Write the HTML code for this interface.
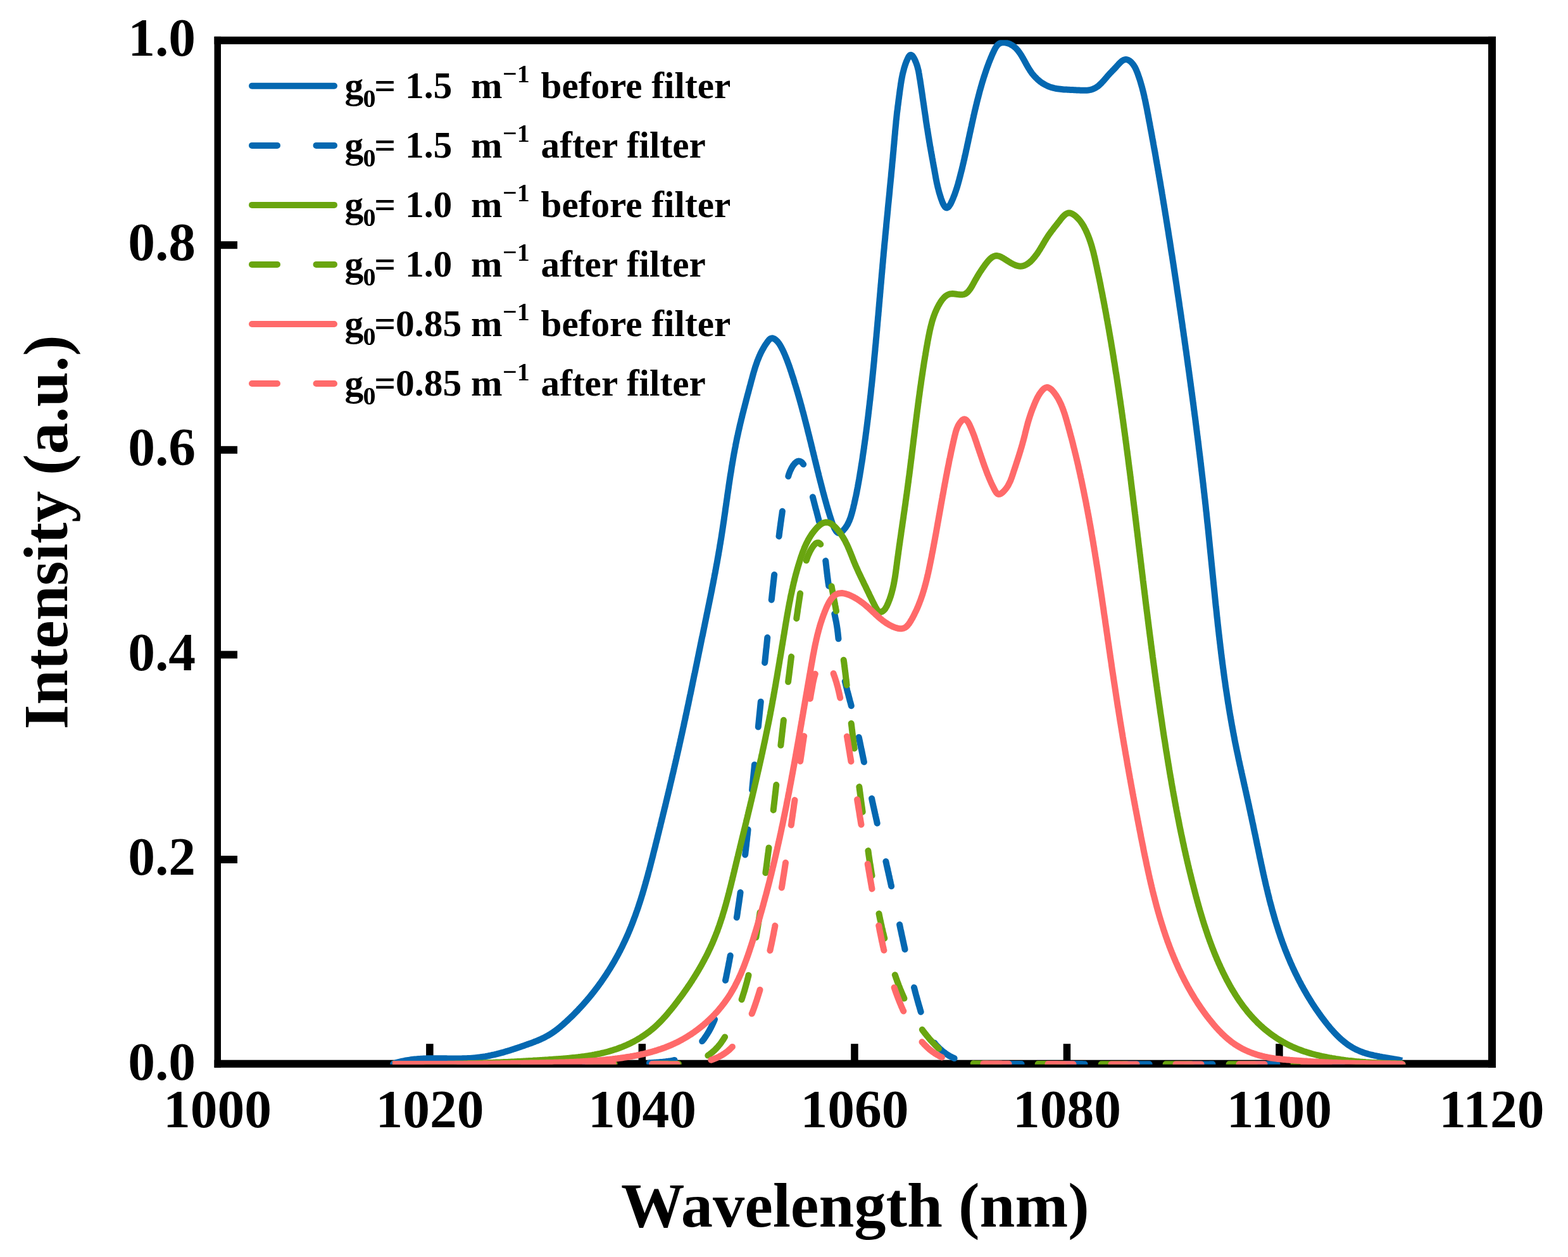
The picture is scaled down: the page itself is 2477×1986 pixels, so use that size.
<!DOCTYPE html><html><head><meta charset="utf-8"><title>Intensity vs Wavelength</title><style>html,body{margin:0;padding:0;background:#fff;}svg{display:block;}text{font-variant-ligatures:none;}</style></head><body>
<svg width="2477" height="1986" viewBox="0 0 2477 1986">
<rect x="0" y="0" width="2477" height="1986" fill="#fff"/>
<g fill="#000">
<rect x="338.5" y="57.8" width="2024.5" height="12.1"/>
<rect x="338.5" y="1674.7" width="2024.5" height="12.1"/>
<rect x="338.5" y="57.8" width="10.5" height="1629"/>
<rect x="2351" y="57.8" width="12" height="1629"/>
<rect x="673.1" y="1649.2" width="11.5" height="27"/>
<rect x="1008.6" y="1649.2" width="11.5" height="27"/>
<rect x="1344.2" y="1649.2" width="11.5" height="27"/>
<rect x="1679.7" y="1649.2" width="11.5" height="27"/>
<rect x="2015.2" y="1649.2" width="11.5" height="27"/>
<rect x="348" y="1352.0" width="27" height="12"/>
<rect x="348" y="1028.4" width="27" height="12"/>
<rect x="348" y="704.8" width="27" height="12"/>
<rect x="348" y="381.2" width="27" height="12"/>
</g>
<g font-family="Liberation Serif, Times New Roman, serif" font-weight="bold" font-size="85.5" fill="#000">
<text x="343.4" y="1781.4" text-anchor="middle">1000</text>
<text x="678.9" y="1781.4" text-anchor="middle">1020</text>
<text x="1014.4" y="1781.4" text-anchor="middle">1040</text>
<text x="1349.9" y="1781.4" text-anchor="middle">1060</text>
<text x="1685.4" y="1781.4" text-anchor="middle">1080</text>
<text x="2020.9" y="1781.4" text-anchor="middle">1100</text>
<text x="2356.4" y="1781.4" text-anchor="middle">1120</text>
<text x="309" y="1705.8" text-anchor="end">0.0</text>
<text x="309" y="1382.2" text-anchor="end">0.2</text>
<text x="309" y="1058.6" text-anchor="end">0.4</text>
<text x="309" y="735.0" text-anchor="end">0.6</text>
<text x="309" y="411.4" text-anchor="end">0.8</text>
<text x="309" y="87.8" text-anchor="end">1.0</text>
</g>
<text font-family="Liberation Serif, Times New Roman, serif" font-weight="bold" font-size="100.5" x="980.9" y="1937.5">Wavelength (nm)</text>
<text font-family="Liberation Serif, Times New Roman, serif" font-weight="bold" font-size="99.7" transform="translate(105.8 1152.3) rotate(-90)" x="0" y="0">Intensity (a.u.)</text>
<defs><clipPath id="pc"><rect x="343.7" y="63.2" width="2013.3" height="1618.6"/></clipPath></defs>
<g clip-path="url(#pc)" fill="none" stroke-width="10" stroke-linejoin="round">
<path d="M620.0 1681.1L621.9 1680.4L623.8 1679.8L625.7 1679.2L627.6 1678.7L629.5 1678.2L631.5 1677.7L633.4 1677.2L635.4 1676.7L637.3 1676.3L639.3 1675.9L641.2 1675.5L643.2 1675.2L645.2 1674.9L647.1 1674.6L649.1 1674.3L651.1 1674.0L653.1 1673.8L655.1 1673.6L657.1 1673.4L659.1 1673.2L661.1 1673.0L663.1 1672.9L665.0 1672.8L667.0 1672.7L669.0 1672.6L671.0 1672.5L673.0 1672.4L675.0 1672.3L677.0 1672.3L679.0 1672.3L681.0 1672.2L683.0 1672.2L685.0 1672.2L687.0 1672.2L689.0 1672.2L691.0 1672.2L693.0 1672.2L695.0 1672.2L697.0 1672.2L699.0 1672.3L701.0 1672.3L703.0 1672.3L705.0 1672.3L707.0 1672.4L709.0 1672.4L711.0 1672.4L713.0 1672.4L715.0 1672.4L717.0 1672.5L719.0 1672.5L721.0 1672.5L723.0 1672.5L725.0 1672.4L727.0 1672.4L729.0 1672.4L731.0 1672.3L733.0 1672.3L735.0 1672.2L737.0 1672.2L739.0 1672.1L741.0 1672.0L743.0 1671.9L745.0 1671.7L747.0 1671.6L749.0 1671.4L751.0 1671.2L753.0 1671.0L754.9 1670.8L756.9 1670.6L758.9 1670.3L760.9 1670.0L762.9 1669.7L764.8 1669.4L766.8 1669.1L768.8 1668.7L770.8 1668.4L772.7 1668.0L774.7 1667.6L776.6 1667.2L778.6 1666.7L780.5 1666.3L782.5 1665.8L784.4 1665.4L786.4 1664.9L788.3 1664.4L790.2 1663.9L792.2 1663.3L794.1 1662.8L796.0 1662.3L797.9 1661.7L799.8 1661.1L801.8 1660.6L803.7 1660.0L805.6 1659.4L807.5 1658.8L809.4 1658.2L811.3 1657.6L813.2 1657.0L815.1 1656.3L817.0 1655.7L818.9 1655.1L820.8 1654.4L822.7 1653.8L824.6 1653.1L826.5 1652.5L828.3 1651.8L830.2 1651.1L832.1 1650.5L834.0 1649.8L835.9 1649.1L837.8 1648.5L839.6 1647.8L841.5 1647.1L843.4 1646.4L845.2 1645.6L847.1 1644.9L849.0 1644.2L850.8 1643.4L852.6 1642.6L854.5 1641.8L856.3 1640.9L858.1 1640.1L859.9 1639.2L861.7 1638.3L863.4 1637.3L865.2 1636.4L866.9 1635.4L868.6 1634.4L870.3 1633.3L872.0 1632.2L873.6 1631.1L875.3 1629.9L876.9 1628.8L878.5 1627.6L880.1 1626.4L881.7 1625.1L883.2 1623.9L884.8 1622.6L886.3 1621.3L887.8 1620.0L889.3 1618.7L890.8 1617.4L892.3 1616.0L893.8 1614.7L895.3 1613.3L896.7 1612.0L898.2 1610.6L899.7 1609.2L901.1 1607.9L902.5 1606.5L904.0 1605.1L905.4 1603.7L906.8 1602.3L908.2 1600.8L909.6 1599.4L911.0 1598.0L912.4 1596.6L913.8 1595.1L915.1 1593.6L916.5 1592.2L917.9 1590.7L919.2 1589.2L920.6 1587.8L921.9 1586.3L923.2 1584.8L924.5 1583.3L925.8 1581.8L927.2 1580.2L928.4 1578.7L929.7 1577.2L931.0 1575.7L932.3 1574.1L933.5 1572.6L934.8 1571.0L936.1 1569.4L937.3 1567.9L938.5 1566.3L939.8 1564.7L941.0 1563.1L942.2 1561.5L943.4 1559.9L944.6 1558.3L945.8 1556.7L946.9 1555.1L948.1 1553.5L949.3 1551.9L950.4 1550.2L951.6 1548.6L952.7 1546.9L953.8 1545.3L954.9 1543.6L956.1 1542.0L957.2 1540.3L958.3 1538.6L959.3 1537.0L960.4 1535.3L961.5 1533.6L962.6 1531.9L963.6 1530.2L964.7 1528.5L965.7 1526.8L966.7 1525.1L967.7 1523.4L968.8 1521.6L969.8 1519.9L970.8 1518.2L971.7 1516.4L972.7 1514.7L973.7 1512.9L974.7 1511.2L975.6 1509.4L976.6 1507.7L977.5 1505.9L978.4 1504.1L979.4 1502.4L980.3 1500.6L981.2 1498.8L982.1 1497.0L983.0 1495.2L983.8 1493.4L984.7 1491.6L985.6 1489.8L986.4 1488.0L987.3 1486.2L988.1 1484.4L988.9 1482.6L989.8 1480.7L990.6 1478.9L991.4 1477.1L992.2 1475.3L993.0 1473.4L993.7 1471.6L994.5 1469.7L995.3 1467.9L996.0 1466.0L996.8 1464.2L997.5 1462.3L998.3 1460.5L999.0 1458.6L999.7 1456.7L1000.4 1454.9L1001.1 1453.0L1001.8 1451.1L1002.5 1449.3L1003.2 1447.4L1003.9 1445.5L1004.6 1443.6L1005.2 1441.7L1005.9 1439.8L1006.6 1438.0L1007.2 1436.1L1007.9 1434.2L1008.5 1432.3L1009.1 1430.4L1009.7 1428.5L1010.4 1426.6L1011.0 1424.7L1011.6 1422.8L1012.2 1420.9L1012.8 1419.0L1013.4 1417.1L1014.0 1415.1L1014.6 1413.2L1015.2 1411.3L1015.7 1409.4L1016.3 1407.5L1016.9 1405.6L1017.4 1403.6L1018.0 1401.7L1018.5 1399.8L1019.1 1397.9L1019.6 1396.0L1020.2 1394.0L1020.7 1392.1L1021.3 1390.2L1021.8 1388.3L1022.3 1386.3L1022.9 1384.4L1023.4 1382.5L1023.9 1380.5L1024.4 1378.6L1024.9 1376.7L1025.5 1374.8L1026.0 1372.8L1026.5 1370.9L1027.0 1369.0L1027.5 1367.0L1028.0 1365.1L1028.5 1363.1L1029.0 1361.2L1029.5 1359.3L1030.0 1357.3L1030.5 1355.4L1031.0 1353.5L1031.5 1351.5L1031.9 1349.6L1032.4 1347.6L1032.9 1345.7L1033.4 1343.8L1033.9 1341.8L1034.4 1339.9L1034.9 1338.0L1035.4 1336.0L1035.8 1334.1L1036.3 1332.1L1036.8 1330.2L1037.3 1328.3L1037.8 1326.3L1038.3 1324.4L1038.7 1322.4L1039.2 1320.5L1039.7 1318.5L1040.2 1316.6L1040.7 1314.7L1041.1 1312.7L1041.6 1310.8L1042.1 1308.8L1042.6 1306.9L1043.1 1305.0L1043.5 1303.0L1044.0 1301.1L1044.5 1299.1L1045.0 1297.2L1045.4 1295.3L1045.9 1293.3L1046.4 1291.4L1046.9 1289.4L1047.3 1287.5L1047.8 1285.5L1048.3 1283.6L1048.8 1281.7L1049.2 1279.7L1049.7 1277.8L1050.2 1275.8L1050.7 1273.9L1051.1 1271.9L1051.6 1270.0L1052.1 1268.1L1052.5 1266.1L1053.0 1264.2L1053.5 1262.2L1053.9 1260.3L1054.4 1258.3L1054.9 1256.4L1055.3 1254.5L1055.8 1252.5L1056.3 1250.6L1056.7 1248.6L1057.2 1246.7L1057.7 1244.7L1058.1 1242.8L1058.6 1240.8L1059.0 1238.9L1059.5 1236.9L1060.0 1235.0L1060.4 1233.1L1060.9 1231.1L1061.3 1229.2L1061.8 1227.2L1062.2 1225.3L1062.7 1223.3L1063.2 1221.4L1063.6 1219.4L1064.1 1217.5L1064.5 1215.5L1065.0 1213.6L1065.4 1211.6L1065.9 1209.7L1066.3 1207.7L1066.8 1205.8L1067.2 1203.8L1067.7 1201.9L1068.1 1199.9L1068.6 1198.0L1069.0 1196.0L1069.4 1194.1L1069.9 1192.1L1070.3 1190.2L1070.8 1188.2L1071.2 1186.3L1071.7 1184.3L1072.1 1182.4L1072.5 1180.4L1073.0 1178.5L1073.4 1176.5L1073.8 1174.6L1074.3 1172.6L1074.7 1170.7L1075.1 1168.7L1075.6 1166.8L1076.0 1164.8L1076.4 1162.9L1076.9 1160.9L1077.3 1159.0L1077.7 1157.0L1078.2 1155.1L1078.6 1153.1L1079.0 1151.2L1079.4 1149.2L1079.9 1147.3L1080.3 1145.3L1080.7 1143.3L1081.1 1141.4L1081.5 1139.4L1082.0 1137.5L1082.4 1135.5L1082.8 1133.6L1083.2 1131.6L1083.6 1129.7L1084.1 1127.7L1084.5 1125.8L1084.9 1123.8L1085.3 1121.8L1085.7 1119.9L1086.1 1117.9L1086.5 1116.0L1087.0 1114.0L1087.4 1112.1L1087.8 1110.1L1088.2 1108.1L1088.6 1106.2L1089.0 1104.2L1089.4 1102.3L1089.8 1100.3L1090.2 1098.4L1090.7 1096.4L1091.1 1094.5L1091.5 1092.5L1091.9 1090.5L1092.3 1088.6L1092.7 1086.6L1093.1 1084.7L1093.5 1082.7L1093.9 1080.7L1094.3 1078.8L1094.7 1076.8L1095.1 1074.9L1095.5 1072.9L1095.9 1071.0L1096.3 1069.0L1096.7 1067.0L1097.1 1065.1L1097.6 1063.1L1098.0 1061.2L1098.4 1059.2L1098.8 1057.3L1099.2 1055.3L1099.6 1053.3L1100.0 1051.4L1100.4 1049.4L1100.8 1047.5L1101.2 1045.5L1101.6 1043.5L1102.0 1041.6L1102.4 1039.6L1102.8 1037.7L1103.2 1035.7L1103.6 1033.8L1104.0 1031.8L1104.4 1029.8L1104.8 1027.9L1105.2 1025.9L1105.6 1024.0L1106.0 1022.0L1106.4 1020.0L1106.8 1018.1L1107.2 1016.1L1107.6 1014.2L1108.0 1012.2L1108.4 1010.3L1108.8 1008.3L1109.2 1006.3L1109.7 1004.4L1110.1 1002.4L1110.5 1000.5L1110.9 998.5L1111.3 996.5L1111.7 994.6L1112.1 992.6L1112.5 990.7L1112.9 988.7L1113.3 986.8L1113.7 984.8L1114.1 982.8L1114.5 980.9L1114.9 978.9L1115.3 977.0L1115.7 975.0L1116.1 973.1L1116.5 971.1L1116.9 969.1L1117.3 967.2L1117.7 965.2L1118.1 963.3L1118.5 961.3L1118.9 959.3L1119.3 957.4L1119.7 955.4L1120.1 953.5L1120.5 951.5L1120.9 949.5L1121.3 947.6L1121.7 945.6L1122.1 943.7L1122.5 941.7L1122.9 939.7L1123.3 937.8L1123.7 935.8L1124.1 933.9L1124.5 931.9L1124.8 929.9L1125.2 928.0L1125.6 926.0L1126.0 924.1L1126.4 922.1L1126.8 920.1L1127.1 918.2L1127.5 916.2L1127.9 914.2L1128.3 912.3L1128.6 910.3L1129.0 908.3L1129.4 906.4L1129.8 904.4L1130.1 902.5L1130.5 900.5L1130.9 898.5L1131.2 896.6L1131.6 894.6L1131.9 892.6L1132.3 890.7L1132.7 888.7L1133.0 886.7L1133.4 884.8L1133.7 882.8L1134.1 880.8L1134.4 878.8L1134.8 876.9L1135.1 874.9L1135.4 872.9L1135.8 871.0L1136.1 869.0L1136.5 867.0L1136.8 865.1L1137.1 863.1L1137.4 861.1L1137.8 859.1L1138.1 857.2L1138.4 855.2L1138.7 853.2L1139.1 851.2L1139.4 849.3L1139.7 847.3L1140.0 845.3L1140.3 843.3L1140.6 841.4L1140.9 839.4L1141.2 837.4L1141.5 835.4L1141.8 833.5L1142.1 831.5L1142.4 829.5L1142.7 827.5L1143.0 825.5L1143.3 823.6L1143.6 821.6L1143.9 819.6L1144.1 817.6L1144.4 815.7L1144.7 813.7L1145.0 811.7L1145.3 809.7L1145.6 807.7L1145.8 805.8L1146.1 803.8L1146.4 801.8L1146.7 799.8L1147.0 797.8L1147.3 795.9L1147.5 793.9L1147.8 791.9L1148.1 789.9L1148.4 787.9L1148.7 786.0L1148.9 784.0L1149.2 782.0L1149.5 780.0L1149.8 778.1L1150.1 776.1L1150.4 774.1L1150.7 772.1L1151.0 770.1L1151.2 768.2L1151.5 766.2L1151.8 764.2L1152.1 762.2L1152.4 760.2L1152.7 758.3L1153.0 756.3L1153.3 754.3L1153.6 752.3L1153.9 750.4L1154.2 748.4L1154.6 746.4L1154.9 744.4L1155.2 742.5L1155.5 740.5L1155.8 738.5L1156.1 736.5L1156.5 734.6L1156.8 732.6L1157.1 730.6L1157.5 728.7L1157.8 726.7L1158.1 724.7L1158.5 722.7L1158.8 720.8L1159.2 718.8L1159.5 716.8L1159.9 714.9L1160.3 712.9L1160.6 710.9L1161.0 709.0L1161.4 707.0L1161.8 705.1L1162.1 703.1L1162.5 701.1L1162.9 699.2L1163.3 697.2L1163.7 695.3L1164.1 693.3L1164.5 691.3L1164.9 689.4L1165.4 687.4L1165.8 685.5L1166.2 683.5L1166.6 681.6L1167.1 679.6L1167.5 677.7L1168.0 675.7L1168.4 673.8L1168.9 671.8L1169.3 669.9L1169.8 667.9L1170.3 666.0L1170.7 664.0L1171.2 662.1L1171.7 660.2L1172.2 658.2L1172.6 656.3L1173.1 654.3L1173.6 652.4L1174.1 650.5L1174.6 648.5L1175.1 646.6L1175.6 644.6L1176.1 642.7L1176.6 640.8L1177.1 638.8L1177.6 636.9L1178.1 635.0L1178.6 633.0L1179.1 631.1L1179.6 629.2L1180.1 627.2L1180.6 625.3L1181.1 623.4L1181.7 621.4L1182.2 619.5L1182.7 617.6L1183.2 615.6L1183.7 613.7L1184.2 611.8L1184.8 609.8L1185.3 607.9L1185.8 606.0L1186.3 604.1L1186.8 602.1L1187.3 600.2L1187.9 598.3L1188.4 596.3L1188.9 594.4L1189.4 592.5L1190.0 590.5L1190.5 588.6L1191.1 586.7L1191.7 584.8L1192.2 582.9L1192.8 581.0L1193.4 579.1L1194.1 577.2L1194.7 575.3L1195.4 573.4L1196.0 571.5L1196.7 569.6L1197.5 567.8L1198.2 565.9L1199.0 564.1L1199.7 562.2L1200.6 560.4L1201.4 558.6L1202.3 556.8L1203.2 555.0L1204.1 553.2L1205.1 551.5L1206.1 549.7L1207.1 548.0L1208.1 546.3L1209.2 544.6L1210.3 543.0L1211.5 541.3L1212.6 539.7L1213.9 538.1L1215.2 536.6L1216.7 535.3L1218.5 534.4L1220.4 534.3L1222.3 534.9L1224.0 535.9L1225.6 537.1L1227.1 538.5L1228.5 539.9L1229.7 541.5L1230.9 543.1L1232.0 544.8L1233.0 546.5L1234.0 548.2L1234.9 550.0L1235.8 551.8L1236.7 553.6L1237.6 555.4L1238.4 557.2L1239.2 559.0L1240.0 560.9L1240.8 562.7L1241.5 564.6L1242.3 566.4L1243.0 568.3L1243.7 570.1L1244.4 572.0L1245.1 573.9L1245.8 575.8L1246.5 577.7L1247.1 579.5L1247.8 581.4L1248.4 583.3L1249.0 585.2L1249.7 587.1L1250.3 589.0L1250.9 590.9L1251.5 592.8L1252.1 594.7L1252.8 596.6L1253.4 598.5L1254.0 600.4L1254.6 602.3L1255.1 604.3L1255.7 606.2L1256.3 608.1L1256.9 610.0L1257.5 611.9L1258.1 613.8L1258.6 615.7L1259.2 617.7L1259.8 619.6L1260.3 621.5L1260.9 623.4L1261.4 625.3L1262.0 627.3L1262.5 629.2L1263.1 631.1L1263.6 633.0L1264.2 635.0L1264.7 636.9L1265.2 638.8L1265.8 640.7L1266.3 642.7L1266.8 644.6L1267.3 646.5L1267.8 648.5L1268.4 650.4L1268.9 652.3L1269.4 654.2L1269.9 656.2L1270.4 658.1L1270.9 660.1L1271.4 662.0L1271.9 663.9L1272.4 665.9L1272.9 667.8L1273.4 669.7L1273.9 671.7L1274.4 673.6L1274.9 675.5L1275.4 677.5L1275.9 679.4L1276.3 681.4L1276.8 683.3L1277.3 685.2L1277.8 687.2L1278.3 689.1L1278.8 691.1L1279.2 693.0L1279.7 694.9L1280.2 696.9L1280.7 698.8L1281.2 700.8L1281.6 702.7L1282.1 704.7L1282.6 706.6L1283.1 708.5L1283.5 710.5L1284.0 712.4L1284.5 714.4L1284.9 716.3L1285.4 718.2L1285.9 720.2L1286.4 722.1L1286.8 724.1L1287.3 726.0L1287.8 728.0L1288.3 729.9L1288.7 731.8L1289.2 733.8L1289.7 735.7L1290.2 737.7L1290.7 739.6L1291.1 741.6L1291.6 743.5L1292.1 745.4L1292.6 747.4L1293.1 749.3L1293.5 751.3L1294.0 753.2L1294.5 755.1L1295.0 757.1L1295.5 759.0L1296.0 760.9L1296.5 762.9L1297.0 764.8L1297.5 766.8L1298.0 768.7L1298.5 770.6L1299.0 772.6L1299.5 774.5L1300.0 776.4L1300.5 778.4L1301.0 780.3L1301.6 782.2L1302.1 784.2L1302.6 786.1L1303.1 788.0L1303.7 789.9L1304.2 791.9L1304.7 793.8L1305.3 795.7L1305.8 797.6L1306.4 799.6L1306.9 801.5L1307.5 803.4L1308.1 805.3L1308.6 807.2L1309.2 809.1L1309.8 811.1L1310.4 813.0L1311.0 814.9L1311.6 816.8L1312.2 818.7L1312.8 820.6L1313.4 822.5L1314.0 824.4L1314.7 826.3L1315.4 828.2L1316.1 830.0L1316.9 831.9L1317.7 833.7L1318.6 835.5L1319.7 837.2L1320.7 838.9L1322.0 840.4L1323.5 841.7L1325.4 842.3L1327.3 841.8L1329.0 840.8L1330.6 839.5L1332.0 838.1L1333.3 836.6L1334.6 835.1L1335.8 833.5L1336.9 831.8L1338.0 830.1L1339.0 828.4L1339.9 826.6L1340.7 824.8L1341.6 823.0L1342.3 821.1L1343.0 819.3L1343.7 817.4L1344.3 815.5L1344.9 813.6L1345.4 811.7L1346.0 809.7L1346.5 807.8L1347.0 805.9L1347.5 803.9L1348.0 802.0L1348.4 800.0L1348.9 798.1L1349.4 796.1L1349.8 794.2L1350.2 792.3L1350.7 790.3L1351.1 788.3L1351.5 786.4L1352.0 784.4L1352.4 782.5L1352.8 780.5L1353.2 778.6L1353.6 776.6L1353.9 774.6L1354.3 772.7L1354.7 770.7L1355.1 768.8L1355.4 766.8L1355.8 764.8L1356.1 762.9L1356.5 760.9L1356.8 758.9L1357.2 756.9L1357.5 755.0L1357.9 753.0L1358.2 751.0L1358.5 749.1L1358.8 747.1L1359.2 745.1L1359.5 743.1L1359.8 741.2L1360.1 739.2L1360.4 737.2L1360.7 735.2L1361.0 733.3L1361.4 731.3L1361.7 729.3L1362.0 727.3L1362.3 725.4L1362.6 723.4L1362.8 721.4L1363.1 719.4L1363.4 717.4L1363.7 715.5L1364.0 713.5L1364.3 711.5L1364.6 709.5L1364.9 707.6L1365.1 705.6L1365.4 703.6L1365.7 701.6L1366.0 699.6L1366.2 697.7L1366.5 695.7L1366.8 693.7L1367.1 691.7L1367.3 689.7L1367.6 687.7L1367.8 685.8L1368.1 683.8L1368.4 681.8L1368.6 679.8L1368.9 677.8L1369.1 675.9L1369.4 673.9L1369.6 671.9L1369.9 669.9L1370.1 667.9L1370.4 665.9L1370.6 663.9L1370.9 662.0L1371.1 660.0L1371.4 658.0L1371.6 656.0L1371.8 654.0L1372.1 652.0L1372.3 650.1L1372.5 648.1L1372.8 646.1L1373.0 644.1L1373.2 642.1L1373.5 640.1L1373.7 638.1L1373.9 636.2L1374.1 634.2L1374.4 632.2L1374.6 630.2L1374.8 628.2L1375.0 626.2L1375.3 624.2L1375.5 622.2L1375.7 620.3L1375.9 618.3L1376.1 616.3L1376.3 614.3L1376.5 612.3L1376.8 610.3L1377.0 608.3L1377.2 606.3L1377.4 604.4L1377.6 602.4L1377.8 600.4L1378.0 598.4L1378.2 596.4L1378.4 594.4L1378.6 592.4L1378.8 590.4L1379.0 588.4L1379.2 586.4L1379.4 584.5L1379.6 582.5L1379.8 580.5L1380.0 578.5L1380.2 576.5L1380.4 574.5L1380.6 572.5L1380.8 570.5L1381.0 568.5L1381.1 566.6L1381.3 564.6L1381.5 562.6L1381.7 560.6L1381.9 558.6L1382.1 556.6L1382.3 554.6L1382.5 552.6L1382.6 550.6L1382.8 548.6L1383.0 546.6L1383.2 544.7L1383.4 542.7L1383.6 540.7L1383.7 538.7L1383.9 536.7L1384.1 534.7L1384.3 532.7L1384.5 530.7L1384.6 528.7L1384.8 526.7L1385.0 524.7L1385.2 522.8L1385.4 520.8L1385.5 518.8L1385.7 516.8L1385.9 514.8L1386.1 512.8L1386.2 510.8L1386.4 508.8L1386.6 506.8L1386.8 504.8L1386.9 502.8L1387.1 500.8L1387.3 498.9L1387.5 496.9L1387.6 494.9L1387.8 492.9L1388.0 490.9L1388.2 488.9L1388.3 486.9L1388.5 484.9L1388.7 482.9L1388.8 480.9L1389.0 478.9L1389.2 476.9L1389.4 474.9L1389.5 473.0L1389.7 471.0L1389.9 469.0L1390.1 467.0L1390.2 465.0L1390.4 463.0L1390.6 461.0L1390.7 459.0L1390.9 457.0L1391.1 455.0L1391.3 453.0L1391.4 451.0L1391.6 449.1L1391.8 447.1L1392.0 445.1L1392.1 443.1L1392.3 441.1L1392.5 439.1L1392.7 437.1L1392.8 435.1L1393.0 433.1L1393.2 431.1L1393.4 429.1L1393.5 427.1L1393.7 425.2L1393.9 423.2L1394.1 421.2L1394.2 419.2L1394.4 417.2L1394.6 415.2L1394.8 413.2L1394.9 411.2L1395.1 409.2L1395.3 407.2L1395.5 405.2L1395.7 403.2L1395.8 401.3L1396.0 399.3L1396.2 397.3L1396.4 395.3L1396.6 393.3L1396.8 391.3L1396.9 389.3L1397.1 387.3L1397.3 385.3L1397.5 383.3L1397.7 381.3L1397.9 379.4L1398.1 377.4L1398.3 375.4L1398.4 373.4L1398.6 371.4L1398.8 369.4L1399.0 367.4L1399.2 365.4L1399.4 363.4L1399.6 361.4L1399.8 359.5L1400.0 357.5L1400.1 355.5L1400.3 353.5L1400.5 351.5L1400.7 349.5L1400.9 347.5L1401.1 345.5L1401.3 343.5L1401.5 341.5L1401.7 339.6L1401.9 337.6L1402.1 335.6L1402.3 333.6L1402.5 331.6L1402.6 329.6L1402.8 327.6L1403.0 325.6L1403.2 323.6L1403.4 321.6L1403.6 319.7L1403.8 317.7L1404.0 315.7L1404.2 313.7L1404.4 311.7L1404.6 309.7L1404.8 307.7L1405.0 305.7L1405.2 303.7L1405.4 301.7L1405.5 299.8L1405.7 297.8L1405.9 295.8L1406.1 293.8L1406.3 291.8L1406.5 289.8L1406.7 287.8L1406.9 285.8L1407.1 283.8L1407.3 281.8L1407.5 279.9L1407.7 277.9L1407.8 275.9L1408.0 273.9L1408.2 271.9L1408.4 269.9L1408.6 267.9L1408.8 265.9L1409.0 263.9L1409.2 261.9L1409.3 259.9L1409.5 258.0L1409.7 256.0L1409.9 254.0L1410.1 252.0L1410.3 250.0L1410.5 248.0L1410.6 246.0L1410.8 244.0L1411.0 242.0L1411.2 240.0L1411.4 238.0L1411.6 236.1L1411.7 234.1L1411.9 232.1L1412.1 230.1L1412.3 228.1L1412.5 226.1L1412.6 224.1L1412.8 222.1L1413.0 220.1L1413.2 218.1L1413.3 216.1L1413.5 214.2L1413.7 212.2L1413.9 210.2L1414.0 208.2L1414.2 206.2L1414.4 204.2L1414.6 202.2L1414.8 200.2L1415.0 198.2L1415.2 196.2L1415.4 194.2L1415.5 192.3L1415.7 190.3L1416.0 188.3L1416.2 186.3L1416.4 184.3L1416.6 182.3L1416.8 180.3L1417.0 178.3L1417.3 176.4L1417.5 174.4L1417.8 172.4L1418.0 170.4L1418.2 168.4L1418.5 166.4L1418.8 164.4L1419.0 162.5L1419.3 160.5L1419.5 158.5L1419.8 156.5L1420.1 154.5L1420.3 152.6L1420.6 150.6L1420.9 148.6L1421.1 146.6L1421.4 144.6L1421.6 142.6L1421.9 140.7L1422.2 138.7L1422.5 136.7L1422.8 134.7L1423.0 132.7L1423.4 130.8L1423.7 128.8L1424.0 126.8L1424.4 124.9L1424.7 122.9L1425.1 120.9L1425.5 119.0L1425.9 117.0L1426.4 115.1L1426.9 113.1L1427.4 111.2L1427.9 109.3L1428.4 107.3L1429.0 105.4L1429.6 103.5L1430.3 101.6L1430.9 99.7L1431.6 97.9L1432.4 96.0L1433.2 94.2L1434.0 92.4L1434.9 90.6L1435.9 88.9L1437.2 87.3L1439.0 86.7L1440.8 87.6L1442.1 89.1L1443.2 90.8L1444.2 92.5L1445.1 94.3L1445.9 96.1L1446.7 98.0L1447.4 99.8L1448.1 101.7L1448.7 103.6L1449.3 105.5L1449.8 107.5L1450.3 109.4L1450.8 111.3L1451.2 113.3L1451.5 115.3L1451.9 117.2L1452.2 119.2L1452.5 121.2L1452.8 123.2L1453.2 125.1L1453.5 127.1L1453.8 129.1L1454.1 131.1L1454.4 133.0L1454.7 135.0L1455.0 137.0L1455.3 139.0L1455.6 140.9L1455.9 142.9L1456.2 144.9L1456.5 146.9L1456.8 148.9L1457.1 150.8L1457.3 152.8L1457.6 154.8L1457.9 156.8L1458.2 158.7L1458.5 160.7L1458.8 162.7L1459.1 164.7L1459.4 166.7L1459.6 168.6L1459.9 170.6L1460.2 172.6L1460.5 174.6L1460.8 176.6L1461.1 178.5L1461.4 180.5L1461.7 182.5L1462.0 184.5L1462.3 186.4L1462.5 188.4L1462.8 190.4L1463.1 192.4L1463.4 194.4L1463.7 196.3L1464.0 198.3L1464.3 200.3L1464.6 202.3L1465.0 204.2L1465.3 206.2L1465.6 208.2L1465.9 210.2L1466.2 212.1L1466.5 214.1L1466.8 216.1L1467.2 218.1L1467.5 220.0L1467.8 222.0L1468.1 224.0L1468.5 225.9L1468.8 227.9L1469.1 229.9L1469.5 231.9L1469.8 233.8L1470.2 235.8L1470.5 237.8L1470.9 239.7L1471.2 241.7L1471.6 243.7L1471.9 245.6L1472.3 247.6L1472.6 249.6L1473.0 251.5L1473.4 253.5L1473.7 255.5L1474.1 257.4L1474.4 259.4L1474.8 261.4L1475.1 263.3L1475.5 265.3L1475.9 267.3L1476.2 269.2L1476.6 271.2L1476.9 273.2L1477.3 275.1L1477.6 277.1L1478.0 279.1L1478.3 281.0L1478.7 283.0L1479.1 285.0L1479.5 286.9L1479.9 288.9L1480.3 290.8L1480.8 292.8L1481.2 294.7L1481.7 296.7L1482.2 298.6L1482.7 300.6L1483.2 302.5L1483.7 304.4L1484.3 306.3L1484.9 308.3L1485.5 310.2L1486.1 312.1L1486.7 314.0L1487.4 315.8L1488.1 317.7L1488.8 319.6L1489.6 321.4L1490.5 323.2L1491.5 325.0L1492.6 326.6L1494.0 328.0L1495.9 328.4L1497.7 327.5L1499.1 326.0L1500.2 324.4L1501.3 322.7L1502.2 320.9L1503.1 319.1L1503.9 317.3L1504.7 315.5L1505.5 313.6L1506.2 311.8L1506.9 309.9L1507.7 308.1L1508.4 306.2L1509.0 304.3L1509.7 302.4L1510.3 300.5L1511.0 298.6L1511.6 296.7L1512.2 294.8L1512.7 292.9L1513.3 291.0L1513.8 289.0L1514.4 287.1L1514.9 285.2L1515.4 283.3L1515.9 281.3L1516.4 279.4L1516.9 277.5L1517.4 275.5L1517.9 273.6L1518.4 271.6L1518.9 269.7L1519.4 267.8L1519.9 265.8L1520.3 263.9L1520.8 261.9L1521.2 260.0L1521.7 258.0L1522.2 256.1L1522.6 254.1L1523.1 252.2L1523.5 250.2L1523.9 248.3L1524.4 246.3L1524.8 244.4L1525.3 242.4L1525.7 240.5L1526.1 238.5L1526.5 236.6L1527.0 234.6L1527.4 232.7L1527.8 230.7L1528.2 228.8L1528.7 226.8L1529.1 224.9L1529.5 222.9L1529.9 221.0L1530.3 219.0L1530.8 217.0L1531.2 215.1L1531.6 213.1L1532.0 211.2L1532.4 209.2L1532.9 207.3L1533.3 205.3L1533.7 203.4L1534.1 201.4L1534.6 199.5L1535.0 197.5L1535.4 195.5L1535.8 193.6L1536.3 191.6L1536.7 189.7L1537.1 187.7L1537.6 185.8L1538.0 183.8L1538.4 181.9L1538.9 179.9L1539.3 178.0L1539.8 176.0L1540.2 174.1L1540.7 172.1L1541.2 170.2L1541.6 168.3L1542.1 166.3L1542.6 164.4L1543.0 162.4L1543.5 160.5L1544.0 158.5L1544.5 156.6L1545.0 154.7L1545.5 152.7L1546.0 150.8L1546.5 148.9L1547.0 146.9L1547.5 145.0L1548.0 143.1L1548.6 141.1L1549.1 139.2L1549.7 137.3L1550.2 135.4L1550.8 133.4L1551.3 131.5L1551.9 129.6L1552.5 127.7L1553.1 125.8L1553.6 123.9L1554.2 122.0L1554.9 120.1L1555.5 118.2L1556.1 116.3L1556.7 114.4L1557.4 112.5L1558.0 110.6L1558.7 108.7L1559.3 106.8L1560.0 104.9L1560.7 103.1L1561.4 101.2L1562.1 99.3L1562.8 97.4L1563.6 95.6L1564.3 93.7L1565.1 91.9L1565.9 90.0L1566.6 88.2L1567.4 86.4L1568.2 84.5L1569.1 82.7L1569.9 80.9L1570.8 79.1L1571.7 77.3L1572.6 75.6L1573.7 73.9L1574.9 72.3L1576.2 70.8L1577.7 69.5L1579.4 68.4L1581.3 67.7L1583.2 67.3L1585.2 67.2L1587.2 67.3L1589.2 67.6L1591.2 68.1L1593.1 68.7L1594.9 69.4L1596.7 70.3L1598.5 71.3L1600.2 72.4L1601.8 73.6L1603.3 74.8L1604.8 76.2L1606.1 77.6L1607.5 79.1L1608.7 80.7L1609.9 82.3L1611.1 83.9L1612.2 85.6L1613.3 87.3L1614.3 89.0L1615.3 90.7L1616.3 92.4L1617.3 94.2L1618.3 95.9L1619.2 97.7L1620.2 99.4L1621.1 101.2L1622.1 102.9L1623.1 104.7L1624.1 106.4L1625.1 108.1L1626.2 109.8L1627.2 111.5L1628.4 113.2L1629.5 114.8L1630.7 116.4L1632.0 117.9L1633.3 119.5L1634.6 121.0L1636.0 122.4L1637.4 123.8L1638.8 125.2L1640.3 126.5L1641.9 127.8L1643.4 129.1L1645.1 130.2L1646.7 131.4L1648.4 132.4L1650.1 133.4L1651.9 134.4L1653.7 135.3L1655.5 136.1L1657.3 136.9L1659.2 137.6L1661.1 138.2L1663.0 138.7L1665.0 139.2L1666.9 139.6L1668.9 140.0L1670.9 140.3L1672.8 140.6L1674.8 140.8L1676.8 141.0L1678.8 141.2L1680.8 141.4L1682.8 141.5L1684.8 141.6L1686.8 141.7L1688.8 141.8L1690.8 141.9L1692.8 142.0L1694.8 142.1L1696.8 142.2L1698.8 142.3L1700.8 142.4L1702.8 142.5L1704.8 142.6L1706.8 142.7L1708.8 142.8L1710.8 142.8L1712.8 142.8L1714.8 142.8L1716.8 142.7L1718.7 142.5L1720.7 142.2L1722.7 141.8L1724.6 141.3L1726.5 140.7L1728.4 139.9L1730.2 139.0L1731.9 138.0L1733.5 136.9L1735.1 135.7L1736.6 134.4L1738.1 133.0L1739.5 131.6L1740.9 130.2L1742.3 128.7L1743.6 127.2L1744.9 125.7L1746.2 124.2L1747.5 122.7L1748.8 121.2L1750.1 119.6L1751.5 118.1L1752.8 116.7L1754.2 115.2L1755.5 113.8L1756.9 112.3L1758.3 110.9L1759.7 109.5L1761.1 108.0L1762.5 106.5L1763.8 105.1L1765.1 103.6L1766.5 102.1L1767.8 100.6L1769.2 99.2L1770.7 97.8L1772.2 96.5L1773.9 95.4L1775.7 94.5L1777.6 94.0L1779.6 94.0L1781.5 94.5L1783.3 95.4L1785.0 96.5L1786.5 97.8L1787.9 99.2L1789.2 100.7L1790.4 102.3L1791.5 104.0L1792.6 105.7L1793.5 107.4L1794.4 109.2L1795.2 111.1L1795.9 112.9L1796.7 114.8L1797.4 116.7L1798.0 118.5L1798.7 120.4L1799.3 122.3L1800.0 124.2L1800.6 126.1L1801.2 128.0L1801.8 129.9L1802.3 131.9L1802.9 133.8L1803.4 135.7L1804.0 137.6L1804.5 139.6L1805.0 141.5L1805.5 143.4L1806.0 145.4L1806.4 147.3L1806.9 149.3L1807.4 151.2L1807.8 153.2L1808.2 155.1L1808.7 157.1L1809.1 159.0L1809.5 161.0L1809.9 162.9L1810.3 164.9L1810.7 166.9L1811.1 168.8L1811.5 170.8L1811.9 172.7L1812.3 174.7L1812.6 176.7L1813.0 178.6L1813.4 180.6L1813.8 182.6L1814.1 184.5L1814.5 186.5L1814.9 188.4L1815.2 190.4L1815.6 192.4L1816.0 194.3L1816.4 196.3L1816.7 198.3L1817.1 200.2L1817.4 202.2L1817.8 204.2L1818.2 206.1L1818.5 208.1L1818.9 210.1L1819.3 212.0L1819.6 214.0L1820.0 216.0L1820.3 217.9L1820.7 219.9L1821.1 221.9L1821.4 223.8L1821.8 225.8L1822.1 227.8L1822.5 229.7L1822.8 231.7L1823.2 233.7L1823.5 235.6L1823.9 237.6L1824.3 239.6L1824.6 241.5L1825.0 243.5L1825.3 245.5L1825.7 247.5L1826.0 249.4L1826.3 251.4L1826.7 253.4L1827.0 255.3L1827.4 257.3L1827.7 259.3L1828.1 261.2L1828.4 263.2L1828.8 265.2L1829.1 267.1L1829.4 269.1L1829.8 271.1L1830.1 273.1L1830.5 275.0L1830.8 277.0L1831.1 279.0L1831.5 280.9L1831.8 282.9L1832.2 284.9L1832.5 286.8L1832.8 288.8L1833.2 290.8L1833.5 292.8L1833.8 294.7L1834.2 296.7L1834.5 298.7L1834.8 300.6L1835.2 302.6L1835.5 304.6L1835.8 306.6L1836.2 308.5L1836.5 310.5L1836.8 312.5L1837.1 314.5L1837.5 316.4L1837.8 318.4L1838.1 320.4L1838.4 322.3L1838.8 324.3L1839.1 326.3L1839.4 328.3L1839.7 330.2L1840.1 332.2L1840.4 334.2L1840.7 336.2L1841.0 338.1L1841.3 340.1L1841.7 342.1L1842.0 344.0L1842.3 346.0L1842.6 348.0L1842.9 350.0L1843.3 351.9L1843.6 353.9L1843.9 355.9L1844.2 357.9L1844.5 359.8L1844.8 361.8L1845.2 363.8L1845.5 365.8L1845.8 367.7L1846.1 369.7L1846.4 371.7L1846.7 373.7L1847.0 375.6L1847.3 377.6L1847.7 379.6L1848.0 381.6L1848.3 383.5L1848.6 385.5L1848.9 387.5L1849.2 389.5L1849.5 391.4L1849.8 393.4L1850.1 395.4L1850.4 397.4L1850.7 399.3L1851.0 401.3L1851.4 403.3L1851.7 405.3L1852.0 407.2L1852.3 409.2L1852.6 411.2L1852.9 413.2L1853.2 415.1L1853.5 417.1L1853.8 419.1L1854.1 421.1L1854.4 423.1L1854.7 425.0L1855.0 427.0L1855.3 429.0L1855.6 431.0L1855.9 432.9L1856.2 434.9L1856.5 436.9L1856.8 438.9L1857.1 440.8L1857.4 442.8L1857.7 444.8L1858.0 446.8L1858.3 448.8L1858.6 450.7L1858.9 452.7L1859.2 454.7L1859.4 456.7L1859.7 458.6L1860.0 460.6L1860.3 462.6L1860.6 464.6L1860.9 466.6L1861.2 468.5L1861.5 470.5L1861.8 472.5L1862.1 474.5L1862.4 476.4L1862.7 478.4L1863.0 480.4L1863.2 482.4L1863.5 484.4L1863.8 486.3L1864.1 488.3L1864.4 490.3L1864.7 492.3L1865.0 494.2L1865.3 496.2L1865.6 498.2L1865.9 500.2L1866.1 502.2L1866.4 504.1L1866.7 506.1L1867.0 508.1L1867.3 510.1L1867.6 512.1L1867.9 514.0L1868.1 516.0L1868.4 518.0L1868.7 520.0L1869.0 521.9L1869.3 523.9L1869.6 525.9L1869.8 527.9L1870.1 529.9L1870.4 531.8L1870.7 533.8L1871.0 535.8L1871.3 537.8L1871.5 539.8L1871.8 541.7L1872.1 543.7L1872.4 545.7L1872.7 547.7L1872.9 549.7L1873.2 551.6L1873.5 553.6L1873.8 555.6L1874.1 557.6L1874.3 559.6L1874.6 561.5L1874.9 563.5L1875.2 565.5L1875.4 567.5L1875.7 569.5L1876.0 571.4L1876.3 573.4L1876.5 575.4L1876.8 577.4L1877.1 579.4L1877.4 581.3L1877.6 583.3L1877.9 585.3L1878.2 587.3L1878.5 589.3L1878.7 591.2L1879.0 593.2L1879.3 595.2L1879.5 597.2L1879.8 599.2L1880.1 601.2L1880.3 603.1L1880.6 605.1L1880.9 607.1L1881.1 609.1L1881.4 611.1L1881.7 613.0L1881.9 615.0L1882.2 617.0L1882.5 619.0L1882.7 621.0L1883.0 622.9L1883.3 624.9L1883.5 626.9L1883.8 628.9L1884.1 630.9L1884.3 632.9L1884.6 634.8L1884.8 636.8L1885.1 638.8L1885.4 640.8L1885.6 642.8L1885.9 644.8L1886.1 646.7L1886.4 648.7L1886.7 650.7L1886.9 652.7L1887.2 654.7L1887.4 656.6L1887.7 658.6L1888.0 660.6L1888.2 662.6L1888.5 664.6L1888.7 666.6L1889.0 668.5L1889.2 670.5L1889.5 672.5L1889.7 674.5L1890.0 676.5L1890.2 678.5L1890.5 680.4L1890.7 682.4L1891.0 684.4L1891.2 686.4L1891.5 688.4L1891.7 690.4L1892.0 692.3L1892.2 694.3L1892.5 696.3L1892.7 698.3L1893.0 700.3L1893.2 702.3L1893.5 704.3L1893.7 706.2L1893.9 708.2L1894.2 710.2L1894.4 712.2L1894.7 714.2L1894.9 716.2L1895.2 718.1L1895.4 720.1L1895.6 722.1L1895.9 724.1L1896.1 726.1L1896.4 728.1L1896.6 730.1L1896.8 732.0L1897.1 734.0L1897.3 736.0L1897.5 738.0L1897.8 740.0L1898.0 742.0L1898.2 744.0L1898.5 745.9L1898.7 747.9L1898.9 749.9L1899.2 751.9L1899.4 753.9L1899.6 755.9L1899.9 757.9L1900.1 759.8L1900.3 761.8L1900.6 763.8L1900.8 765.8L1901.0 767.8L1901.2 769.8L1901.5 771.8L1901.7 773.7L1901.9 775.7L1902.1 777.7L1902.4 779.7L1902.6 781.7L1902.8 783.7L1903.0 785.7L1903.3 787.7L1903.5 789.6L1903.7 791.6L1903.9 793.6L1904.1 795.6L1904.4 797.6L1904.6 799.6L1904.8 801.6L1905.0 803.5L1905.2 805.5L1905.4 807.5L1905.7 809.5L1905.9 811.5L1906.1 813.5L1906.3 815.5L1906.5 817.5L1906.7 819.5L1906.9 821.4L1907.1 823.4L1907.3 825.4L1907.6 827.4L1907.8 829.4L1908.0 831.4L1908.2 833.4L1908.4 835.4L1908.6 837.3L1908.8 839.3L1909.0 841.3L1909.2 843.3L1909.4 845.3L1909.6 847.3L1909.8 849.3L1910.0 851.3L1910.2 853.3L1910.4 855.2L1910.6 857.2L1910.8 859.2L1911.0 861.2L1911.2 863.2L1911.4 865.2L1911.6 867.2L1911.8 869.2L1912.0 871.2L1912.2 873.2L1912.4 875.1L1912.6 877.1L1912.8 879.1L1913.0 881.1L1913.2 883.1L1913.4 885.1L1913.6 887.1L1913.8 889.1L1914.0 891.1L1914.2 893.0L1914.4 895.0L1914.6 897.0L1914.8 899.0L1915.0 901.0L1915.2 903.0L1915.4 905.0L1915.6 907.0L1915.8 909.0L1916.0 911.0L1916.2 912.9L1916.4 914.9L1916.6 916.9L1916.8 918.9L1917.0 920.9L1917.2 922.9L1917.4 924.9L1917.6 926.9L1917.8 928.9L1918.0 930.8L1918.2 932.8L1918.4 934.8L1918.6 936.8L1918.8 938.8L1919.0 940.8L1919.2 942.8L1919.4 944.8L1919.6 946.8L1919.8 948.7L1920.0 950.7L1920.2 952.7L1920.4 954.7L1920.6 956.7L1920.8 958.7L1921.1 960.7L1921.3 962.7L1921.5 964.7L1921.7 966.6L1921.9 968.6L1922.1 970.6L1922.3 972.6L1922.5 974.6L1922.7 976.6L1923.0 978.6L1923.2 980.6L1923.4 982.5L1923.6 984.5L1923.8 986.5L1924.0 988.5L1924.3 990.5L1924.5 992.5L1924.7 994.5L1924.9 996.5L1925.2 998.4L1925.4 1000.4L1925.6 1002.4L1925.8 1004.4L1926.1 1006.4L1926.3 1008.4L1926.5 1010.4L1926.8 1012.3L1927.0 1014.3L1927.2 1016.3L1927.5 1018.3L1927.7 1020.3L1927.9 1022.3L1928.2 1024.3L1928.4 1026.2L1928.7 1028.2L1928.9 1030.2L1929.1 1032.2L1929.4 1034.2L1929.6 1036.2L1929.9 1038.2L1930.1 1040.1L1930.4 1042.1L1930.6 1044.1L1930.9 1046.1L1931.1 1048.1L1931.4 1050.1L1931.7 1052.0L1931.9 1054.0L1932.2 1056.0L1932.5 1058.0L1932.7 1060.0L1933.0 1061.9L1933.3 1063.9L1933.5 1065.9L1933.8 1067.9L1934.1 1069.9L1934.3 1071.8L1934.6 1073.8L1934.9 1075.8L1935.2 1077.8L1935.5 1079.8L1935.7 1081.7L1936.0 1083.7L1936.3 1085.7L1936.6 1087.7L1936.9 1089.7L1937.2 1091.6L1937.5 1093.6L1937.8 1095.6L1938.1 1097.6L1938.4 1099.5L1938.7 1101.5L1939.0 1103.5L1939.3 1105.5L1939.6 1107.4L1939.9 1109.4L1940.2 1111.4L1940.6 1113.4L1940.9 1115.3L1941.2 1117.3L1941.5 1119.3L1941.8 1121.3L1942.2 1123.2L1942.5 1125.2L1942.8 1127.2L1943.2 1129.2L1943.5 1131.1L1943.8 1133.1L1944.2 1135.1L1944.5 1137.0L1944.9 1139.0L1945.2 1141.0L1945.6 1142.9L1945.9 1144.9L1946.3 1146.9L1946.6 1148.8L1947.0 1150.8L1947.4 1152.8L1947.7 1154.7L1948.1 1156.7L1948.5 1158.7L1948.8 1160.6L1949.2 1162.6L1949.6 1164.6L1950.0 1166.5L1950.3 1168.5L1950.7 1170.4L1951.1 1172.4L1951.5 1174.4L1951.9 1176.3L1952.3 1178.3L1952.7 1180.2L1953.1 1182.2L1953.5 1184.2L1953.9 1186.1L1954.3 1188.1L1954.7 1190.0L1955.2 1192.0L1955.6 1193.9L1956.0 1195.9L1956.4 1197.9L1956.8 1199.8L1957.2 1201.8L1957.7 1203.7L1958.1 1205.7L1958.5 1207.6L1958.9 1209.6L1959.4 1211.5L1959.8 1213.5L1960.2 1215.4L1960.7 1217.4L1961.1 1219.3L1961.5 1221.3L1962.0 1223.2L1962.4 1225.2L1962.8 1227.2L1963.3 1229.1L1963.7 1231.1L1964.1 1233.0L1964.6 1235.0L1965.0 1236.9L1965.4 1238.9L1965.9 1240.8L1966.3 1242.8L1966.8 1244.7L1967.2 1246.7L1967.6 1248.6L1968.1 1250.6L1968.5 1252.5L1968.9 1254.5L1969.4 1256.4L1969.8 1258.4L1970.2 1260.3L1970.6 1262.3L1971.1 1264.2L1971.5 1266.2L1971.9 1268.1L1972.4 1270.1L1972.8 1272.0L1973.2 1274.0L1973.6 1276.0L1974.0 1277.9L1974.5 1279.9L1974.9 1281.8L1975.3 1283.8L1975.7 1285.7L1976.1 1287.7L1976.6 1289.6L1977.0 1291.6L1977.4 1293.6L1977.8 1295.5L1978.2 1297.5L1978.6 1299.4L1979.1 1301.4L1979.5 1303.3L1979.9 1305.3L1980.3 1307.2L1980.7 1309.2L1981.1 1311.2L1981.5 1313.1L1981.9 1315.1L1982.3 1317.0L1982.8 1319.0L1983.2 1320.9L1983.6 1322.9L1984.0 1324.9L1984.4 1326.8L1984.8 1328.8L1985.2 1330.7L1985.6 1332.7L1986.0 1334.6L1986.4 1336.6L1986.9 1338.6L1987.3 1340.5L1987.7 1342.5L1988.1 1344.4L1988.5 1346.4L1988.9 1348.3L1989.3 1350.3L1989.7 1352.3L1990.1 1354.2L1990.5 1356.2L1991.0 1358.1L1991.4 1360.1L1991.8 1362.0L1992.2 1364.0L1992.6 1365.9L1993.1 1367.9L1993.5 1369.8L1993.9 1371.8L1994.3 1373.8L1994.7 1375.7L1995.2 1377.7L1995.6 1379.6L1996.0 1381.6L1996.5 1383.5L1996.9 1385.5L1997.3 1387.4L1997.8 1389.4L1998.2 1391.3L1998.7 1393.3L1999.1 1395.2L1999.6 1397.2L2000.0 1399.1L2000.5 1401.1L2001.0 1403.0L2001.4 1404.9L2001.9 1406.9L2002.4 1408.8L2002.8 1410.8L2003.3 1412.7L2003.8 1414.7L2004.3 1416.6L2004.8 1418.5L2005.2 1420.5L2005.7 1422.4L2006.2 1424.4L2006.7 1426.3L2007.2 1428.2L2007.8 1430.2L2008.3 1432.1L2008.8 1434.0L2009.3 1435.9L2009.8 1437.9L2010.4 1439.8L2010.9 1441.7L2011.5 1443.7L2012.0 1445.6L2012.6 1447.5L2013.1 1449.4L2013.7 1451.3L2014.2 1453.3L2014.8 1455.2L2015.4 1457.1L2016.0 1459.0L2016.6 1460.9L2017.2 1462.8L2017.8 1464.7L2018.4 1466.6L2019.0 1468.5L2019.6 1470.4L2020.2 1472.3L2020.9 1474.2L2021.5 1476.1L2022.1 1478.0L2022.8 1479.9L2023.4 1481.8L2024.1 1483.7L2024.8 1485.6L2025.4 1487.5L2026.1 1489.3L2026.8 1491.2L2027.5 1493.1L2028.2 1495.0L2028.9 1496.8L2029.6 1498.7L2030.3 1500.6L2031.1 1502.4L2031.8 1504.3L2032.6 1506.1L2033.3 1508.0L2034.1 1509.8L2034.8 1511.7L2035.6 1513.5L2036.4 1515.4L2037.2 1517.2L2037.9 1519.0L2038.7 1520.9L2039.5 1522.7L2040.4 1524.5L2041.2 1526.4L2042.0 1528.2L2042.8 1530.0L2043.7 1531.8L2044.5 1533.6L2045.4 1535.4L2046.2 1537.2L2047.1 1539.0L2048.0 1540.8L2048.9 1542.6L2049.8 1544.4L2050.7 1546.2L2051.6 1548.0L2052.5 1549.8L2053.4 1551.5L2054.4 1553.3L2055.3 1555.1L2056.2 1556.8L2057.2 1558.6L2058.2 1560.3L2059.1 1562.1L2060.1 1563.8L2061.1 1565.6L2062.1 1567.3L2063.1 1569.0L2064.1 1570.8L2065.1 1572.5L2066.1 1574.2L2067.2 1575.9L2068.2 1577.6L2069.3 1579.3L2070.3 1581.0L2071.4 1582.7L2072.4 1584.4L2073.5 1586.1L2074.6 1587.8L2075.7 1589.4L2076.8 1591.1L2077.9 1592.8L2079.0 1594.4L2080.2 1596.1L2081.3 1597.7L2082.5 1599.3L2083.6 1601.0L2084.8 1602.6L2085.9 1604.2L2087.1 1605.8L2088.3 1607.5L2089.5 1609.1L2090.7 1610.7L2091.9 1612.2L2093.1 1613.8L2094.4 1615.4L2095.6 1617.0L2096.8 1618.5L2098.1 1620.1L2099.4 1621.7L2100.6 1623.2L2101.9 1624.7L2103.2 1626.2L2104.5 1627.7L2105.9 1629.2L2107.2 1630.7L2108.6 1632.2L2110.0 1633.6L2111.4 1635.1L2112.8 1636.5L2114.2 1637.9L2115.6 1639.3L2117.1 1640.6L2118.6 1642.0L2120.1 1643.3L2121.6 1644.6L2123.2 1645.8L2124.7 1647.1L2126.3 1648.3L2127.9 1649.5L2129.5 1650.7L2131.2 1651.8L2132.9 1652.9L2134.6 1653.9L2136.3 1655.0L2138.0 1656.0L2139.8 1656.9L2141.5 1657.8L2143.3 1658.7L2145.2 1659.5L2147.0 1660.3L2148.8 1661.1L2150.7 1661.8L2152.6 1662.5L2154.5 1663.2L2156.4 1663.8L2158.3 1664.4L2160.2 1664.9L2162.1 1665.5L2164.1 1666.0L2166.0 1666.5L2167.9 1666.9L2169.9 1667.4L2171.8 1667.8L2173.8 1668.2L2175.8 1668.6L2177.7 1669.0L2179.7 1669.4L2181.6 1669.7L2183.6 1670.1L2185.6 1670.4L2187.6 1670.8L2189.5 1671.1L2191.5 1671.4L2193.5 1671.8L2195.4 1672.1L2197.4 1672.4L2199.4 1672.8L2201.4 1673.1L2203.3 1673.4L2205.3 1673.8L2207.3 1674.1L2209.2 1674.5L2211.2 1674.9L2213.1 1675.3L2215.1 1675.7" stroke="#0468b1" stroke-linecap="butt"/>
<path d="M621.2 1681.0L623.2 1681.0L625.2 1681.0L627.2 1681.1L629.2 1681.1L631.2 1681.2L633.2 1681.2L635.2 1681.2L637.2 1681.3L639.2 1681.3L641.2 1681.3L643.2 1681.3L645.2 1681.4L647.2 1681.4L649.2 1681.4L651.2 1681.4L653.2 1681.4L655.2 1681.5L657.2 1681.5L659.2 1681.5L661.2 1681.5 M722.4 1681.4L724.4 1681.4L726.4 1681.4L728.4 1681.4L730.4 1681.4L732.4 1681.4L734.4 1681.3L736.4 1681.3L738.4 1681.3L740.4 1681.3L742.4 1681.3L744.4 1681.3L746.4 1681.3L748.4 1681.2L750.4 1681.2L752.4 1681.2L754.4 1681.2L756.4 1681.2L758.4 1681.2L760.4 1681.2L762.4 1681.1 M823.6 1680.9L825.6 1680.9L827.6 1680.9L829.5 1681.0L831.5 1681.0L833.5 1681.0L835.5 1681.0L837.5 1681.0L839.5 1681.0L841.5 1681.0L843.5 1681.0L845.5 1681.0L847.5 1681.1L849.5 1681.1L851.5 1681.1L853.5 1681.1L855.5 1681.1L857.5 1681.2L859.5 1681.2L861.5 1681.2L863.5 1681.2 M924.7 1681.7L926.7 1681.7L928.7 1681.7L930.7 1681.7L932.7 1681.7L934.7 1681.7L936.7 1681.7L938.7 1681.7L940.7 1681.7L942.7 1681.7L944.7 1681.7L946.7 1681.7L948.7 1681.7L950.7 1681.7L952.7 1681.7L954.7 1681.6L956.7 1681.6L958.7 1681.6L960.7 1681.6L962.7 1681.6L964.7 1681.5 M1025.9 1679.3L1027.9 1679.2L1029.9 1679.1L1031.9 1678.9L1033.9 1678.8L1035.9 1678.7L1037.9 1678.5L1039.9 1678.4L1041.9 1678.2L1043.9 1678.0L1045.8 1677.9L1047.8 1677.7L1049.8 1677.5L1051.8 1677.3L1053.8 1677.0L1055.8 1676.8L1057.8 1676.5L1059.7 1676.2L1061.7 1675.8L1063.7 1675.4L1065.6 1675.0 M1109.2 1645.1L1110.5 1643.6L1111.7 1642.0L1112.9 1640.3L1114.0 1638.7L1115.1 1637.1L1116.2 1635.4L1117.3 1633.7L1118.3 1632.0L1119.4 1630.3L1120.4 1628.5L1121.3 1626.8L1122.3 1625.0L1123.2 1623.3L1124.1 1621.5L1125.0 1619.7L1125.8 1617.9L1126.7 1616.0L1127.5 1614.2L1128.3 1612.4L1129.0 1610.5 M1146.0 1548.9L1146.4 1547.0L1146.8 1545.0L1147.3 1543.1L1147.6 1541.1L1148.0 1539.1L1148.4 1537.2L1148.8 1535.2L1149.2 1533.3L1149.6 1531.3L1150.0 1529.3L1150.4 1527.4L1150.8 1525.4L1151.1 1523.4L1151.5 1521.5L1151.9 1519.5L1152.3 1517.6L1152.6 1515.6L1153.0 1513.6L1153.4 1511.7L1153.7 1509.7 M1163.8 1449.6L1164.2 1447.6L1164.5 1445.6L1164.8 1443.6L1165.1 1441.6L1165.3 1439.7L1165.6 1437.7L1165.9 1435.7L1166.2 1433.7L1166.5 1431.8L1166.8 1429.8L1167.1 1427.8L1167.4 1425.8L1167.7 1423.8L1167.9 1421.9L1168.2 1419.9L1168.5 1417.9L1168.8 1415.9L1169.1 1413.9L1169.3 1412.0L1169.6 1410.0 M1177.1 1350.5L1177.4 1348.5L1177.6 1346.5L1177.8 1344.5L1178.1 1342.5L1178.3 1340.5L1178.5 1338.5L1178.8 1336.6L1179.0 1334.6L1179.2 1332.6L1179.4 1330.6L1179.7 1328.6L1179.9 1326.6L1180.1 1324.6L1180.3 1322.6L1180.5 1320.7L1180.8 1318.7L1181.0 1316.7L1181.2 1314.7L1181.4 1312.7L1181.6 1310.7 M1188.1 1248.1L1188.3 1246.1L1188.4 1244.1L1188.6 1242.1L1188.8 1240.1L1189.0 1238.1L1189.2 1236.1L1189.4 1234.1L1189.6 1232.1L1189.8 1230.1L1190.0 1228.2L1190.2 1226.2L1190.4 1224.2L1190.6 1222.2L1190.8 1220.2L1191.0 1218.2L1191.2 1216.2L1191.4 1214.2L1191.6 1212.2L1191.7 1210.2L1191.9 1208.2 M1197.8 1148.5L1198.0 1146.6L1198.2 1144.6L1198.4 1142.6L1198.6 1140.6L1198.8 1138.6L1199.0 1136.6L1199.2 1134.6L1199.4 1132.6L1199.6 1130.6L1199.8 1128.6L1200.0 1126.7L1200.2 1124.7L1200.4 1122.7L1200.6 1120.7L1200.8 1118.7L1201.0 1116.7L1201.2 1114.7L1201.4 1112.7L1201.6 1110.7L1201.8 1108.7 M1208.1 1047.1L1208.4 1045.1L1208.6 1043.1L1208.8 1041.1L1209.0 1039.1L1209.2 1037.1L1209.4 1035.2L1209.6 1033.2L1209.8 1031.2L1210.0 1029.2L1210.2 1027.2L1210.4 1025.2L1210.7 1023.2L1210.9 1021.2L1211.1 1019.2L1211.3 1017.3L1211.5 1015.3L1211.7 1013.3L1211.9 1011.3L1212.1 1009.3L1212.3 1007.3 M1218.7 947.7L1219.0 945.7L1219.2 943.7L1219.4 941.7L1219.6 939.7L1219.8 937.7L1220.1 935.7L1220.3 933.8L1220.5 931.8L1220.7 929.8L1220.9 927.8L1221.2 925.8L1221.4 923.8L1221.6 921.8L1221.8 919.8L1222.0 917.9L1222.3 915.9L1222.5 913.9L1222.7 911.9L1222.9 909.9L1223.2 907.9 M1230.5 847.4L1230.8 845.4L1231.0 843.4L1231.3 841.4L1231.5 839.4L1231.8 837.5L1232.1 835.5L1232.3 833.5L1232.6 831.5L1232.9 829.5L1233.1 827.6L1233.4 825.6L1233.7 823.6L1234.0 821.6L1234.2 819.6L1234.5 817.6L1234.8 815.7L1235.1 813.7L1235.4 811.7L1235.6 809.7L1235.9 807.7 M1245.3 752.6L1245.8 750.7L1246.4 748.8L1247.1 746.9L1247.8 745.0L1248.6 743.2L1249.5 741.4L1250.4 739.6L1251.4 737.8L1252.4 736.2L1253.6 734.5L1254.8 733.0L1256.2 731.5L1257.7 730.2L1259.4 729.1L1261.3 728.6L1263.2 728.7L1265.1 729.4L1266.7 730.6L1268.0 732.1L1269.2 733.6 M1283.9 785.3L1284.4 787.2L1284.9 789.2L1285.4 791.1L1285.9 793.1L1286.4 795.0L1286.9 796.9L1287.4 798.9L1287.9 800.8L1288.4 802.7L1288.9 804.7L1289.5 806.6L1290.0 808.5L1290.5 810.5L1291.0 812.4L1291.5 814.3L1292.0 816.3L1292.5 818.2L1293.0 820.1L1293.4 822.1L1293.9 824.0 M1304.2 886.1L1304.5 888.1L1304.7 890.1L1304.9 892.1L1305.2 894.1L1305.4 896.0L1305.6 898.0L1305.8 900.0L1306.1 902.0L1306.3 904.0L1306.5 906.0L1306.8 908.0L1307.0 909.9L1307.3 911.9L1307.5 913.9L1307.8 915.9L1308.1 917.9L1308.3 919.9L1308.6 921.8L1308.9 923.8L1309.2 925.8 M1318.3 969.8L1318.7 971.8L1319.1 973.8L1319.5 975.7L1319.9 977.7L1320.3 979.6L1320.7 981.6L1321.1 983.6L1321.4 985.5L1321.8 987.5L1322.1 989.5L1322.4 991.5L1322.7 993.4L1323.0 995.4L1323.2 997.4L1323.5 999.4L1323.7 1001.4L1323.9 1003.4L1324.1 1005.3L1324.3 1007.3L1324.5 1009.3 M1334.8 1076.5L1335.3 1078.4L1335.8 1080.4L1336.2 1082.3L1336.7 1084.2L1337.2 1086.2L1337.7 1088.1L1338.1 1090.1L1338.6 1092.0L1339.1 1093.9L1339.7 1095.9L1340.2 1097.8L1340.7 1099.7L1341.2 1101.7L1341.7 1103.6L1342.2 1105.5L1342.7 1107.5L1343.3 1109.4L1343.8 1111.3L1344.3 1113.3L1344.8 1115.2 M1356.7 1164.8L1357.2 1166.7L1357.6 1168.7L1358.0 1170.6L1358.4 1172.6L1358.8 1174.5L1359.2 1176.5L1359.6 1178.5L1360.0 1180.4L1360.4 1182.4L1360.9 1184.3L1361.3 1186.3L1361.7 1188.3L1362.1 1190.2L1362.5 1192.2L1362.9 1194.1L1363.3 1196.1L1363.7 1198.1L1364.1 1200.0L1364.5 1202.0L1364.9 1203.9 M1377.1 1261.6L1377.5 1263.6L1377.9 1265.5L1378.3 1267.5L1378.8 1269.5L1379.2 1271.4L1379.6 1273.4L1380.1 1275.3L1380.5 1277.3L1380.9 1279.2L1381.4 1281.2L1381.8 1283.1L1382.2 1285.1L1382.7 1287.0L1383.1 1289.0L1383.6 1290.9L1384.0 1292.9L1384.4 1294.8L1384.9 1296.8L1385.3 1298.7L1385.7 1300.7 M1399.4 1361.1L1399.9 1363.1L1400.3 1365.0L1400.7 1367.0L1401.2 1368.9L1401.6 1370.9L1402.0 1372.8L1402.5 1374.8L1402.9 1376.8L1403.4 1378.7L1403.8 1380.7L1404.2 1382.6L1404.7 1384.6L1405.1 1386.5L1405.5 1388.5L1406.0 1390.4L1406.4 1392.4L1406.8 1394.3L1407.2 1396.3L1407.7 1398.2L1408.1 1400.2 M1421.1 1460.8L1421.5 1462.8L1421.9 1464.7L1422.3 1466.7L1422.7 1468.6L1423.2 1470.6L1423.6 1472.5L1424.0 1474.5L1424.4 1476.4L1424.8 1478.4L1425.3 1480.4L1425.7 1482.3L1426.1 1484.3L1426.5 1486.2L1427.0 1488.2L1427.4 1490.1L1427.8 1492.1L1428.2 1494.0L1428.7 1496.0L1429.1 1497.9L1429.5 1499.9 M1444.0 1560.2L1444.5 1562.1L1445.0 1564.0L1445.5 1566.0L1446.0 1567.9L1446.5 1569.8L1447.0 1571.8L1447.6 1573.7L1448.1 1575.6L1448.6 1577.6L1449.2 1579.5L1449.7 1581.4L1450.2 1583.3L1450.8 1585.3L1451.3 1587.2L1451.9 1589.1L1452.5 1591.0L1453.0 1592.9L1453.6 1594.9L1454.1 1596.8L1454.7 1598.7 M1476.4 1647.8L1477.6 1649.4L1478.9 1650.9L1480.2 1652.4L1481.6 1653.9L1483.0 1655.3L1484.4 1656.7L1485.9 1658.1L1487.4 1659.4L1488.9 1660.7L1490.5 1661.9L1492.1 1663.1L1493.7 1664.3L1495.3 1665.4L1497.0 1666.5L1498.7 1667.6L1500.4 1668.6L1502.2 1669.5L1504.0 1670.4L1505.8 1671.3L1507.6 1672.1 M1573.6 1681.0L1575.6 1681.0L1577.6 1681.0L1579.6 1681.0L1581.6 1681.0L1583.6 1681.0L1585.6 1681.0L1587.6 1681.1L1589.6 1681.1L1591.6 1681.1L1593.6 1681.1L1595.6 1681.1L1597.6 1681.1L1599.6 1681.0L1601.6 1681.0L1603.6 1681.0L1605.6 1681.0L1607.6 1681.0L1609.6 1681.0L1611.6 1681.0L1613.6 1681.0 M1673.6 1681.1L1675.6 1681.1L1677.6 1681.1L1679.6 1681.1L1681.6 1681.1L1683.6 1681.1L1685.6 1681.1L1687.6 1681.1L1689.6 1681.1L1691.6 1681.1L1693.6 1681.1L1695.6 1681.1L1697.6 1681.1L1699.6 1681.1L1701.6 1681.1L1703.6 1681.1L1705.6 1681.1L1707.6 1681.1L1709.6 1681.1L1711.6 1681.2L1713.6 1681.2 M1775.6 1681.3L1777.6 1681.3L1779.6 1681.3L1781.6 1681.3L1783.6 1681.3L1785.6 1681.3L1787.6 1681.3L1789.6 1681.3L1791.6 1681.3L1793.6 1681.3L1795.6 1681.3L1797.6 1681.3L1799.6 1681.3L1801.6 1681.3L1803.6 1681.3L1805.6 1681.3L1807.6 1681.3L1809.6 1681.3L1811.6 1681.3L1813.6 1681.3L1815.6 1681.3 M1875.5 1681.4L1877.5 1681.4L1879.5 1681.4L1881.5 1681.4L1883.5 1681.4L1885.5 1681.4L1887.5 1681.4L1889.5 1681.4L1891.5 1681.4L1893.5 1681.4L1895.5 1681.4L1897.5 1681.4L1899.5 1681.4L1901.5 1681.4L1903.5 1681.4L1905.5 1681.4L1907.5 1681.4L1909.5 1681.4L1911.5 1681.3L1913.5 1681.3L1915.5 1681.3 M1977.5 1681.3L1979.5 1681.3L1981.5 1681.3L1983.5 1681.3L1985.5 1681.3L1987.5 1681.3L1989.5 1681.3L1991.5 1681.3L1993.5 1681.3L1995.5 1681.3L1997.5 1681.3L1999.5 1681.3L2001.5 1681.3L2003.5 1681.3L2005.5 1681.3L2007.5 1681.3L2009.5 1681.3L2011.5 1681.3L2013.5 1681.3L2015.5 1681.3L2017.5 1681.3 M2079.5 1681.3L2081.5 1681.3L2083.5 1681.3L2085.5 1681.3L2087.5 1681.3L2089.5 1681.3L2091.5 1681.3L2093.5 1681.3L2095.5 1681.3L2097.5 1681.3L2099.5 1681.3L2101.5 1681.3L2103.5 1681.3L2105.5 1681.3L2107.5 1681.3L2109.5 1681.3L2111.5 1681.3L2113.5 1681.3L2115.5 1681.3L2117.5 1681.3L2119.5 1681.3 M2179.5 1681.3L2181.6 1681.3L2183.7 1681.3L2185.9 1681.3L2188.0 1681.3L2190.1 1681.3L2192.2 1681.3L2194.3 1681.3L2196.4 1681.3L2198.6 1681.3L2200.7 1681.3L2202.8 1681.3L2204.9 1681.3L2207.0 1681.3L2209.1 1681.4L2211.3 1681.4L2213.4 1681.4L2215.5 1681.4 M2195.5 1681.3L2197.5 1681.3L2199.5 1681.3L2201.5 1681.3L2203.5 1681.3L2205.5 1681.3L2207.5 1681.3L2209.5 1681.4L2211.5 1681.4L2213.5 1681.4L2215.5 1681.4" stroke="#0468b1" stroke-linecap="round"/>
<path d="M619.8 1681.1L621.8 1681.1L623.8 1681.1L625.8 1681.1L627.8 1681.1L629.8 1681.2L631.8 1681.2L633.8 1681.2L635.8 1681.2L637.8 1681.2L639.8 1681.2L641.8 1681.2L643.8 1681.3L645.8 1681.3L647.8 1681.3L649.8 1681.3L651.8 1681.3L653.8 1681.3L655.8 1681.3L657.8 1681.3L659.8 1681.3L661.8 1681.3L663.8 1681.3L665.8 1681.3L667.8 1681.3L669.8 1681.2L671.8 1681.2L673.8 1681.2L675.8 1681.2L677.8 1681.2L679.8 1681.2L681.8 1681.2L683.8 1681.2L685.8 1681.1L687.8 1681.1L689.8 1681.1L691.8 1681.1L693.8 1681.1L695.8 1681.0L697.8 1681.0L699.8 1681.0L701.8 1680.9L703.8 1680.9L705.8 1680.9L707.8 1680.8L709.8 1680.8L711.8 1680.8L713.8 1680.7L715.8 1680.7L717.8 1680.7L719.8 1680.6L721.8 1680.6L723.8 1680.5L725.7 1680.5L727.7 1680.4L729.7 1680.4L731.7 1680.4L733.7 1680.3L735.7 1680.3L737.7 1680.2L739.7 1680.1L741.7 1680.1L743.7 1680.0L745.7 1680.0L747.7 1679.9L749.7 1679.9L751.7 1679.8L753.7 1679.7L755.7 1679.7L757.7 1679.6L759.7 1679.5L761.7 1679.5L763.7 1679.4L765.7 1679.3L767.7 1679.3L769.7 1679.2L771.7 1679.1L773.7 1679.0L775.7 1679.0L777.7 1678.9L779.7 1678.8L781.7 1678.7L783.7 1678.6L785.7 1678.6L787.7 1678.5L789.7 1678.4L791.7 1678.3L793.7 1678.2L795.7 1678.1L797.7 1678.0L799.7 1678.0L801.7 1677.9L803.7 1677.8L805.7 1677.7L807.7 1677.6L809.7 1677.5L811.7 1677.4L813.7 1677.3L815.7 1677.2L817.7 1677.1L819.6 1677.0L821.6 1676.9L823.6 1676.8L825.6 1676.7L827.6 1676.5L829.6 1676.4L831.6 1676.3L833.6 1676.2L835.6 1676.1L837.6 1676.0L839.6 1675.9L841.6 1675.8L843.6 1675.6L845.6 1675.5L847.6 1675.4L849.6 1675.3L851.6 1675.2L853.6 1675.0L855.6 1674.9L857.6 1674.8L859.6 1674.7L861.6 1674.5L863.6 1674.4L865.6 1674.3L867.5 1674.1L869.5 1674.0L871.5 1673.9L873.5 1673.7L875.5 1673.6L877.5 1673.5L879.5 1673.3L881.5 1673.2L883.5 1673.0L885.5 1672.9L887.5 1672.7L889.5 1672.6L891.5 1672.4L893.5 1672.2L895.5 1672.1L897.5 1671.9L899.4 1671.7L901.4 1671.5L903.4 1671.3L905.4 1671.1L907.4 1670.9L909.4 1670.7L911.4 1670.5L913.4 1670.3L915.3 1670.0L917.3 1669.8L919.3 1669.5L921.3 1669.2L923.3 1669.0L925.3 1668.7L927.2 1668.4L929.2 1668.1L931.2 1667.8L933.2 1667.4L935.1 1667.1L937.1 1666.7L939.1 1666.4L941.0 1666.0L943.0 1665.6L944.9 1665.2L946.9 1664.8L948.9 1664.4L950.8 1663.9L952.7 1663.5L954.7 1663.0L956.6 1662.5L958.6 1662.0L960.5 1661.5L962.4 1660.9L964.3 1660.4L966.3 1659.8L968.2 1659.2L970.1 1658.6L972.0 1658.0L973.9 1657.4L975.8 1656.7L977.6 1656.0L979.5 1655.3L981.4 1654.6L983.2 1653.9L985.1 1653.1L986.9 1652.3L988.8 1651.6L990.6 1650.7L992.4 1649.9L994.2 1649.1L996.0 1648.2L997.8 1647.3L999.6 1646.4L1001.4 1645.5L1003.1 1644.5L1004.9 1643.5L1006.6 1642.6L1008.3 1641.5L1010.0 1640.5L1011.8 1639.5L1013.4 1638.4L1015.1 1637.3L1016.8 1636.2L1018.4 1635.1L1020.1 1633.9L1021.7 1632.8L1023.3 1631.6L1024.9 1630.4L1026.5 1629.2L1028.1 1627.9L1029.6 1626.7L1031.1 1625.4L1032.7 1624.1L1034.2 1622.8L1035.7 1621.4L1037.1 1620.1L1038.6 1618.7L1040.0 1617.3L1041.4 1615.9L1042.8 1614.5L1044.2 1613.1L1045.6 1611.6L1047.0 1610.1L1048.3 1608.7L1049.7 1607.2L1051.0 1605.7L1052.3 1604.2L1053.6 1602.7L1054.9 1601.2L1056.2 1599.6L1057.5 1598.1L1058.8 1596.6L1060.0 1595.0L1061.3 1593.5L1062.5 1591.9L1063.8 1590.3L1065.0 1588.8L1066.3 1587.2L1067.5 1585.6L1068.7 1584.0L1069.9 1582.4L1071.1 1580.8L1072.3 1579.2L1073.5 1577.6L1074.7 1576.0L1075.9 1574.4L1077.1 1572.8L1078.3 1571.2L1079.4 1569.6L1080.6 1567.9L1081.7 1566.3L1082.9 1564.7L1084.0 1563.0L1085.2 1561.4L1086.3 1559.7L1087.4 1558.1L1088.6 1556.4L1089.7 1554.8L1090.8 1553.1L1091.9 1551.4L1093.0 1549.8L1094.0 1548.1L1095.1 1546.4L1096.2 1544.7L1097.3 1543.0L1098.3 1541.3L1099.4 1539.6L1100.4 1537.9L1101.4 1536.2L1102.5 1534.5L1103.5 1532.8L1104.5 1531.0L1105.5 1529.3L1106.5 1527.6L1107.5 1525.8L1108.5 1524.1L1109.4 1522.3L1110.4 1520.6L1111.3 1518.8L1112.3 1517.1L1113.2 1515.3L1114.1 1513.5L1115.1 1511.8L1116.0 1510.0L1116.9 1508.2L1117.8 1506.4L1118.7 1504.6L1119.5 1502.8L1120.4 1501.0L1121.2 1499.2L1122.1 1497.4L1122.9 1495.6L1123.7 1493.7L1124.6 1491.9L1125.4 1490.1L1126.2 1488.3L1126.9 1486.4L1127.7 1484.6L1128.5 1482.7L1129.2 1480.9L1130.0 1479.0L1130.7 1477.2L1131.4 1475.3L1132.2 1473.4L1132.9 1471.6L1133.6 1469.7L1134.2 1467.8L1134.9 1465.9L1135.6 1464.0L1136.3 1462.2L1136.9 1460.3L1137.5 1458.4L1138.2 1456.5L1138.8 1454.6L1139.4 1452.7L1140.1 1450.8L1140.7 1448.9L1141.3 1447.0L1141.8 1445.1L1142.4 1443.1L1143.0 1441.2L1143.6 1439.3L1144.2 1437.4L1144.7 1435.5L1145.3 1433.6L1145.8 1431.6L1146.4 1429.7L1146.9 1427.8L1147.4 1425.9L1148.0 1423.9L1148.5 1422.0L1149.0 1420.1L1149.5 1418.1L1150.0 1416.2L1150.5 1414.3L1151.1 1412.3L1151.6 1410.4L1152.0 1408.5L1152.5 1406.5L1153.0 1404.6L1153.5 1402.7L1154.0 1400.7L1154.5 1398.8L1155.0 1396.8L1155.4 1394.9L1155.9 1392.9L1156.4 1391.0L1156.9 1389.1L1157.3 1387.1L1157.8 1385.2L1158.3 1383.2L1158.7 1381.3L1159.2 1379.3L1159.7 1377.4L1160.1 1375.5L1160.6 1373.5L1161.1 1371.6L1161.5 1369.6L1162.0 1367.7L1162.5 1365.7L1162.9 1363.8L1163.4 1361.8L1163.9 1359.9L1164.3 1358.0L1164.8 1356.0L1165.3 1354.1L1165.8 1352.1L1166.2 1350.2L1166.7 1348.2L1167.2 1346.3L1167.6 1344.4L1168.1 1342.4L1168.6 1340.5L1169.0 1338.5L1169.5 1336.6L1170.0 1334.6L1170.5 1332.7L1170.9 1330.8L1171.4 1328.8L1171.9 1326.9L1172.3 1324.9L1172.8 1323.0L1173.3 1321.0L1173.8 1319.1L1174.2 1317.2L1174.7 1315.2L1175.2 1313.3L1175.6 1311.3L1176.1 1309.4L1176.6 1307.4L1177.1 1305.5L1177.5 1303.6L1178.0 1301.6L1178.5 1299.7L1178.9 1297.7L1179.4 1295.8L1179.9 1293.8L1180.4 1291.9L1180.8 1290.0L1181.3 1288.0L1181.8 1286.1L1182.2 1284.1L1182.7 1282.2L1183.2 1280.2L1183.6 1278.3L1184.1 1276.3L1184.6 1274.4L1185.0 1272.5L1185.5 1270.5L1185.9 1268.6L1186.4 1266.6L1186.9 1264.7L1187.3 1262.7L1187.8 1260.8L1188.3 1258.8L1188.7 1256.9L1189.2 1254.9L1189.6 1253.0L1190.1 1251.1L1190.6 1249.1L1191.0 1247.2L1191.5 1245.2L1191.9 1243.3L1192.4 1241.3L1192.8 1239.4L1193.3 1237.4L1193.7 1235.5L1194.2 1233.5L1194.6 1231.6L1195.1 1229.6L1195.5 1227.7L1196.0 1225.7L1196.4 1223.8L1196.9 1221.8L1197.3 1219.9L1197.8 1217.9L1198.2 1216.0L1198.7 1214.0L1199.1 1212.1L1199.5 1210.1L1200.0 1208.2L1200.4 1206.2L1200.8 1204.3L1201.3 1202.3L1201.7 1200.4L1202.2 1198.4L1202.6 1196.5L1203.0 1194.5L1203.4 1192.6L1203.9 1190.6L1204.3 1188.7L1204.7 1186.7L1205.1 1184.8L1205.6 1182.8L1206.0 1180.9L1206.4 1178.9L1206.8 1176.9L1207.2 1175.0L1207.7 1173.0L1208.1 1171.1L1208.5 1169.1L1208.9 1167.2L1209.3 1165.2L1209.7 1163.3L1210.1 1161.3L1210.5 1159.3L1210.9 1157.4L1211.3 1155.4L1211.7 1153.5L1212.1 1151.5L1212.5 1149.5L1212.9 1147.6L1213.3 1145.6L1213.7 1143.7L1214.1 1141.7L1214.5 1139.7L1214.9 1137.8L1215.3 1135.8L1215.6 1133.9L1216.0 1131.9L1216.4 1129.9L1216.8 1128.0L1217.1 1126.0L1217.5 1124.0L1217.9 1122.1L1218.3 1120.1L1218.6 1118.1L1219.0 1116.2L1219.4 1114.2L1219.7 1112.2L1220.1 1110.3L1220.4 1108.3L1220.8 1106.3L1221.2 1104.4L1221.5 1102.4L1221.9 1100.4L1222.2 1098.5L1222.6 1096.5L1222.9 1094.5L1223.3 1092.6L1223.6 1090.6L1224.0 1088.6L1224.3 1086.7L1224.7 1084.7L1225.0 1082.7L1225.4 1080.8L1225.7 1078.8L1226.0 1076.8L1226.4 1074.8L1226.7 1072.9L1227.1 1070.9L1227.4 1068.9L1227.7 1067.0L1228.1 1065.0L1228.4 1063.0L1228.7 1061.1L1229.1 1059.1L1229.4 1057.1L1229.7 1055.1L1230.1 1053.2L1230.4 1051.2L1230.7 1049.2L1231.1 1047.2L1231.4 1045.3L1231.7 1043.3L1232.0 1041.3L1232.4 1039.4L1232.7 1037.4L1233.0 1035.4L1233.4 1033.4L1233.7 1031.5L1234.0 1029.5L1234.3 1027.5L1234.7 1025.6L1235.0 1023.6L1235.3 1021.6L1235.6 1019.6L1236.0 1017.7L1236.3 1015.7L1236.6 1013.7L1236.9 1011.7L1237.3 1009.8L1237.6 1007.8L1237.9 1005.8L1238.2 1003.9L1238.6 1001.9L1238.9 999.9L1239.2 997.9L1239.5 996.0L1239.9 994.0L1240.2 992.0L1240.5 990.0L1240.8 988.1L1241.2 986.1L1241.5 984.1L1241.8 982.2L1242.2 980.2L1242.5 978.2L1242.8 976.2L1243.2 974.3L1243.5 972.3L1243.9 970.3L1244.2 968.4L1244.6 966.4L1244.9 964.4L1245.3 962.5L1245.6 960.5L1246.0 958.5L1246.4 956.6L1246.7 954.6L1247.1 952.6L1247.5 950.7L1247.9 948.7L1248.3 946.7L1248.6 944.8L1249.0 942.8L1249.4 940.9L1249.8 938.9L1250.3 937.0L1250.7 935.0L1251.1 933.0L1251.5 931.1L1252.0 929.1L1252.4 927.2L1252.8 925.2L1253.3 923.3L1253.7 921.3L1254.2 919.4L1254.7 917.5L1255.2 915.5L1255.6 913.6L1256.1 911.6L1256.6 909.7L1257.1 907.8L1257.7 905.8L1258.2 903.9L1258.7 902.0L1259.3 900.1L1259.8 898.1L1260.4 896.2L1260.9 894.3L1261.5 892.4L1262.1 890.5L1262.7 888.6L1263.3 886.6L1263.9 884.7L1264.5 882.8L1265.1 880.9L1265.7 879.0L1266.4 877.2L1267.1 875.3L1267.7 873.4L1268.4 871.5L1269.2 869.6L1269.9 867.8L1270.6 865.9L1271.4 864.1L1272.2 862.3L1273.0 860.4L1273.9 858.6L1274.8 856.8L1275.7 855.1L1276.6 853.3L1277.6 851.5L1278.6 849.8L1279.6 848.1L1280.7 846.4L1281.8 844.7L1282.9 843.1L1284.1 841.5L1285.3 839.9L1286.6 838.3L1287.9 836.8L1289.2 835.3L1290.5 833.8L1291.9 832.4L1293.4 831.0L1294.9 829.7L1296.5 828.5L1298.2 827.4L1299.9 826.5L1301.8 825.8L1303.8 825.3L1305.7 825.2L1307.7 825.5L1309.6 826.0L1311.5 826.8L1313.2 827.8L1314.9 828.9L1316.4 830.2L1318.0 831.5L1319.4 832.9L1320.8 834.3L1322.1 835.8L1323.4 837.3L1324.7 838.8L1325.9 840.4L1327.1 842.0L1328.3 843.6L1329.4 845.3L1330.5 847.0L1331.6 848.7L1332.6 850.4L1333.6 852.1L1334.6 853.8L1335.5 855.6L1336.4 857.4L1337.3 859.2L1338.2 861.0L1339.0 862.8L1339.8 864.6L1340.6 866.5L1341.4 868.3L1342.2 870.2L1342.9 872.0L1343.7 873.9L1344.4 875.7L1345.2 877.6L1345.9 879.4L1346.6 881.3L1347.4 883.2L1348.1 885.0L1348.8 886.9L1349.6 888.7L1350.4 890.6L1351.1 892.4L1351.9 894.2L1352.7 896.1L1353.6 897.9L1354.4 899.7L1355.2 901.5L1356.0 903.4L1356.9 905.2L1357.7 907.0L1358.6 908.8L1359.4 910.6L1360.3 912.4L1361.2 914.2L1362.0 916.0L1362.9 917.8L1363.8 919.6L1364.6 921.4L1365.5 923.2L1366.4 925.0L1367.3 926.8L1368.1 928.6L1369.0 930.4L1369.9 932.2L1370.7 934.0L1371.6 935.8L1372.5 937.6L1373.3 939.4L1374.2 941.2L1375.1 943.0L1375.9 944.8L1376.8 946.6L1377.7 948.4L1378.6 950.2L1379.5 952.0L1380.4 953.8L1381.3 955.6L1382.2 957.3L1383.1 959.1L1384.1 960.9L1385.1 962.6L1386.2 964.2L1387.6 965.7L1389.3 966.7L1391.3 967.0L1393.2 966.4L1394.9 965.4L1396.4 964.2L1397.8 962.7L1398.9 961.0L1399.9 959.3L1400.9 957.6L1401.7 955.7L1402.5 953.9L1403.3 952.1L1404.0 950.2L1404.8 948.3L1405.5 946.5L1406.1 944.6L1406.8 942.7L1407.4 940.8L1407.9 938.9L1408.5 937.0L1409.0 935.0L1409.5 933.1L1410.0 931.2L1410.5 929.2L1410.9 927.3L1411.4 925.3L1411.8 923.3L1412.2 921.4L1412.5 919.4L1412.9 917.5L1413.2 915.5L1413.6 913.5L1413.9 911.5L1414.2 909.6L1414.5 907.6L1414.8 905.6L1415.1 903.6L1415.3 901.7L1415.6 899.7L1415.9 897.7L1416.1 895.7L1416.4 893.7L1416.7 891.7L1416.9 889.8L1417.2 887.8L1417.4 885.8L1417.7 883.8L1418.0 881.8L1418.3 879.9L1418.5 877.9L1418.8 875.9L1419.1 873.9L1419.3 871.9L1419.6 869.9L1419.9 868.0L1420.2 866.0L1420.4 864.0L1420.7 862.0L1421.0 860.1L1421.3 858.1L1421.6 856.1L1421.8 854.1L1422.1 852.1L1422.4 850.2L1422.7 848.2L1423.0 846.2L1423.3 844.2L1423.5 842.2L1423.8 840.3L1424.1 838.3L1424.4 836.3L1424.7 834.3L1425.0 832.3L1425.3 830.4L1425.5 828.4L1425.8 826.4L1426.1 824.4L1426.4 822.4L1426.7 820.5L1427.0 818.5L1427.3 816.5L1427.5 814.5L1427.8 812.6L1428.1 810.6L1428.4 808.6L1428.7 806.6L1429.0 804.6L1429.2 802.7L1429.5 800.7L1429.8 798.7L1430.1 796.7L1430.4 794.7L1430.6 792.8L1430.9 790.8L1431.2 788.8L1431.5 786.8L1431.7 784.8L1432.0 782.9L1432.3 780.9L1432.6 778.9L1432.8 776.9L1433.1 774.9L1433.4 773.0L1433.6 771.0L1433.9 769.0L1434.2 767.0L1434.4 765.0L1434.7 763.0L1435.0 761.1L1435.2 759.1L1435.5 757.1L1435.7 755.1L1436.0 753.1L1436.3 751.2L1436.5 749.2L1436.8 747.2L1437.0 745.2L1437.3 743.2L1437.5 741.2L1437.8 739.3L1438.0 737.3L1438.3 735.3L1438.5 733.3L1438.8 731.3L1439.0 729.3L1439.3 727.3L1439.5 725.4L1439.8 723.4L1440.0 721.4L1440.3 719.4L1440.5 717.4L1440.7 715.4L1441.0 713.5L1441.2 711.5L1441.5 709.5L1441.7 707.5L1442.0 705.5L1442.2 703.5L1442.5 701.6L1442.7 699.6L1442.9 697.6L1443.2 695.6L1443.4 693.6L1443.7 691.6L1443.9 689.6L1444.2 687.7L1444.4 685.7L1444.7 683.7L1444.9 681.7L1445.1 679.7L1445.4 677.7L1445.6 675.8L1445.9 673.8L1446.1 671.8L1446.4 669.8L1446.6 667.8L1446.9 665.8L1447.1 663.9L1447.4 661.9L1447.6 659.9L1447.9 657.9L1448.1 655.9L1448.4 653.9L1448.6 652.0L1448.9 650.0L1449.1 648.0L1449.4 646.0L1449.7 644.0L1449.9 642.0L1450.2 640.1L1450.4 638.1L1450.7 636.1L1451.0 634.1L1451.2 632.1L1451.5 630.1L1451.7 628.2L1452.0 626.2L1452.3 624.2L1452.6 622.2L1452.8 620.2L1453.1 618.3L1453.4 616.3L1453.6 614.3L1453.9 612.3L1454.2 610.3L1454.5 608.4L1454.8 606.4L1455.0 604.4L1455.3 602.4L1455.6 600.4L1455.9 598.5L1456.2 596.5L1456.5 594.5L1456.8 592.5L1457.1 590.6L1457.4 588.6L1457.7 586.6L1458.0 584.6L1458.3 582.6L1458.6 580.7L1458.9 578.7L1459.2 576.7L1459.5 574.7L1459.8 572.8L1460.1 570.8L1460.5 568.8L1460.8 566.9L1461.1 564.9L1461.4 562.9L1461.8 560.9L1462.1 559.0L1462.4 557.0L1462.8 555.0L1463.1 553.0L1463.4 551.1L1463.8 549.1L1464.1 547.1L1464.5 545.2L1464.8 543.2L1465.2 541.2L1465.5 539.3L1465.9 537.3L1466.3 535.3L1466.6 533.4L1467.0 531.4L1467.4 529.4L1467.8 527.5L1468.2 525.5L1468.6 523.6L1469.0 521.6L1469.5 519.7L1469.9 517.7L1470.4 515.8L1470.9 513.8L1471.4 511.9L1471.9 510.0L1472.4 508.0L1473.0 506.1L1473.6 504.2L1474.2 502.3L1474.8 500.4L1475.5 498.5L1476.2 496.7L1476.9 494.8L1477.7 492.9L1478.5 491.1L1479.3 489.3L1480.1 487.5L1481.0 485.7L1481.9 483.9L1482.9 482.1L1483.9 480.4L1484.9 478.7L1485.9 477.0L1487.1 475.3L1488.2 473.7L1489.5 472.2L1490.8 470.7L1492.2 469.2L1493.7 467.9L1495.4 466.8L1497.1 465.8L1498.9 465.0L1500.9 464.4L1502.8 464.2L1504.8 464.1L1506.8 464.2L1508.8 464.5L1510.8 464.8L1512.8 465.1L1514.7 465.3L1516.7 465.5L1518.7 465.6L1520.7 465.4L1522.7 465.1L1524.6 464.4L1526.3 463.4L1527.9 462.1L1529.3 460.7L1530.6 459.2L1531.8 457.7L1533.0 456.0L1534.1 454.3L1535.1 452.6L1536.1 450.9L1537.1 449.1L1538.0 447.4L1539.0 445.6L1539.9 443.9L1540.9 442.1L1541.9 440.4L1542.9 438.7L1543.9 436.9L1544.9 435.2L1546.0 433.5L1547.0 431.8L1548.1 430.1L1549.2 428.4L1550.3 426.8L1551.4 425.1L1552.6 423.5L1553.7 421.8L1554.9 420.2L1556.0 418.6L1557.2 417.0L1558.4 415.4L1559.7 413.8L1561.0 412.3L1562.3 410.8L1563.7 409.4L1565.2 408.0L1566.7 406.8L1568.4 405.7L1570.2 404.9L1572.1 404.3L1574.1 404.1L1576.1 404.3L1578.1 404.7L1579.9 405.4L1581.8 406.2L1583.5 407.2L1585.3 408.2L1587.0 409.2L1588.6 410.3L1590.3 411.4L1592.0 412.4L1593.7 413.5L1595.4 414.5L1597.1 415.6L1598.9 416.5L1600.7 417.5L1602.5 418.3L1604.3 419.1L1606.2 419.7L1608.1 420.2L1610.1 420.6L1612.1 420.7L1614.1 420.6L1616.1 420.2L1618.0 419.6L1619.8 418.8L1621.6 417.9L1623.3 416.8L1624.9 415.7L1626.5 414.4L1628.0 413.1L1629.4 411.7L1630.8 410.3L1632.1 408.8L1633.4 407.3L1634.7 405.7L1635.9 404.1L1637.1 402.5L1638.3 400.9L1639.4 399.3L1640.5 397.6L1641.6 395.9L1642.7 394.2L1643.7 392.5L1644.7 390.8L1645.8 389.1L1646.8 387.4L1647.8 385.6L1648.8 383.9L1649.8 382.2L1650.8 380.5L1651.9 378.8L1652.9 377.1L1654.0 375.4L1655.1 373.7L1656.2 372.0L1657.3 370.4L1658.5 368.8L1659.7 367.2L1660.9 365.5L1662.1 364.0L1663.3 362.4L1664.5 360.8L1665.7 359.2L1667.0 357.6L1668.2 356.1L1669.5 354.5L1670.7 352.9L1671.9 351.4L1673.2 349.8L1674.4 348.2L1675.6 346.6L1676.9 345.1L1678.1 343.5L1679.5 342.0L1680.9 340.6L1682.4 339.3L1684.0 338.1L1685.7 337.2L1687.6 336.6L1689.6 336.5L1691.6 336.9L1693.4 337.6L1695.2 338.6L1696.9 339.7L1698.4 340.9L1700.0 342.2L1701.4 343.6L1702.8 345.0L1704.2 346.5L1705.5 348.0L1706.7 349.6L1707.9 351.2L1709.0 352.8L1710.1 354.5L1711.2 356.2L1712.2 357.9L1713.1 359.7L1714.0 361.5L1714.9 363.2L1715.8 365.1L1716.6 366.9L1717.4 368.7L1718.2 370.5L1718.9 372.4L1719.7 374.3L1720.4 376.1L1721.1 378.0L1721.7 379.9L1722.4 381.8L1723.0 383.7L1723.6 385.6L1724.2 387.5L1724.8 389.4L1725.3 391.3L1725.8 393.3L1726.4 395.2L1726.9 397.1L1727.4 399.1L1727.9 401.0L1728.3 402.9L1728.8 404.9L1729.3 406.8L1729.7 408.8L1730.1 410.7L1730.6 412.7L1731.0 414.6L1731.4 416.6L1731.8 418.6L1732.3 420.5L1732.7 422.5L1733.1 424.4L1733.5 426.4L1733.9 428.3L1734.3 430.3L1734.7 432.2L1735.2 434.2L1735.6 436.2L1736.0 438.1L1736.4 440.1L1736.8 442.0L1737.2 444.0L1737.6 446.0L1738.0 447.9L1738.4 449.9L1738.8 451.8L1739.1 453.8L1739.5 455.8L1739.9 457.7L1740.3 459.7L1740.7 461.6L1741.1 463.6L1741.5 465.6L1741.8 467.5L1742.2 469.5L1742.6 471.4L1743.0 473.4L1743.4 475.4L1743.7 477.3L1744.1 479.3L1744.5 481.3L1744.9 483.2L1745.2 485.2L1745.6 487.2L1746.0 489.1L1746.3 491.1L1746.7 493.1L1747.1 495.0L1747.4 497.0L1747.8 499.0L1748.1 500.9L1748.5 502.9L1748.8 504.9L1749.2 506.8L1749.6 508.8L1749.9 510.8L1750.3 512.7L1750.6 514.7L1751.0 516.7L1751.3 518.6L1751.7 520.6L1752.0 522.6L1752.3 524.5L1752.7 526.5L1753.0 528.5L1753.4 530.5L1753.7 532.4L1754.0 534.4L1754.4 536.4L1754.7 538.3L1755.1 540.3L1755.4 542.3L1755.7 544.3L1756.0 546.2L1756.4 548.2L1756.7 550.2L1757.0 552.1L1757.4 554.1L1757.7 556.1L1758.0 558.1L1758.3 560.0L1758.7 562.0L1759.0 564.0L1759.3 566.0L1759.6 567.9L1759.9 569.9L1760.2 571.9L1760.6 573.8L1760.9 575.8L1761.2 577.8L1761.5 579.8L1761.8 581.7L1762.1 583.7L1762.4 585.7L1762.7 587.7L1763.0 589.6L1763.4 591.6L1763.7 593.6L1764.0 595.6L1764.3 597.6L1764.6 599.5L1764.9 601.5L1765.2 603.5L1765.5 605.5L1765.8 607.4L1766.1 609.4L1766.4 611.4L1766.7 613.4L1767.0 615.3L1767.3 617.3L1767.5 619.3L1767.8 621.3L1768.1 623.3L1768.4 625.2L1768.7 627.2L1769.0 629.2L1769.3 631.2L1769.6 633.1L1769.9 635.1L1770.1 637.1L1770.4 639.1L1770.7 641.1L1771.0 643.0L1771.3 645.0L1771.6 647.0L1771.8 649.0L1772.1 651.0L1772.4 652.9L1772.7 654.9L1773.0 656.9L1773.2 658.9L1773.5 660.9L1773.8 662.8L1774.1 664.8L1774.3 666.8L1774.6 668.8L1774.9 670.8L1775.2 672.7L1775.4 674.7L1775.7 676.7L1776.0 678.7L1776.2 680.7L1776.5 682.6L1776.8 684.6L1777.0 686.6L1777.3 688.6L1777.6 690.6L1777.8 692.6L1778.1 694.5L1778.4 696.5L1778.6 698.5L1778.9 700.5L1779.2 702.5L1779.4 704.4L1779.7 706.4L1779.9 708.4L1780.2 710.4L1780.5 712.4L1780.7 714.4L1781.0 716.3L1781.2 718.3L1781.5 720.3L1781.8 722.3L1782.0 724.3L1782.3 726.3L1782.5 728.2L1782.8 730.2L1783.0 732.2L1783.3 734.2L1783.5 736.2L1783.8 738.1L1784.0 740.1L1784.3 742.1L1784.6 744.1L1784.8 746.1L1785.1 748.1L1785.3 750.1L1785.6 752.0L1785.8 754.0L1786.1 756.0L1786.3 758.0L1786.6 760.0L1786.8 762.0L1787.0 763.9L1787.3 765.9L1787.5 767.9L1787.8 769.9L1788.0 771.9L1788.3 773.9L1788.5 775.8L1788.8 777.8L1789.0 779.8L1789.3 781.8L1789.5 783.8L1789.8 785.8L1790.0 787.7L1790.2 789.7L1790.5 791.7L1790.7 793.7L1791.0 795.7L1791.2 797.7L1791.5 799.7L1791.7 801.6L1791.9 803.6L1792.2 805.6L1792.4 807.6L1792.7 809.6L1792.9 811.6L1793.2 813.5L1793.4 815.5L1793.6 817.5L1793.9 819.5L1794.1 821.5L1794.4 823.5L1794.6 825.5L1794.8 827.4L1795.1 829.4L1795.3 831.4L1795.6 833.4L1795.8 835.4L1796.0 837.4L1796.3 839.3L1796.5 841.3L1796.8 843.3L1797.0 845.3L1797.2 847.3L1797.5 849.3L1797.7 851.3L1798.0 853.2L1798.2 855.2L1798.4 857.2L1798.7 859.2L1798.9 861.2L1799.2 863.2L1799.4 865.2L1799.6 867.1L1799.9 869.1L1800.1 871.1L1800.4 873.1L1800.6 875.1L1800.8 877.1L1801.1 879.0L1801.3 881.0L1801.6 883.0L1801.8 885.0L1802.0 887.0L1802.3 889.0L1802.5 891.0L1802.8 892.9L1803.0 894.9L1803.2 896.9L1803.5 898.9L1803.7 900.9L1804.0 902.9L1804.2 904.8L1804.4 906.8L1804.7 908.8L1804.9 910.8L1805.2 912.8L1805.4 914.8L1805.6 916.8L1805.9 918.7L1806.1 920.7L1806.4 922.7L1806.6 924.7L1806.9 926.7L1807.1 928.7L1807.3 930.6L1807.6 932.6L1807.8 934.6L1808.1 936.6L1808.3 938.6L1808.6 940.6L1808.8 942.6L1809.1 944.5L1809.3 946.5L1809.5 948.5L1809.8 950.5L1810.0 952.5L1810.3 954.5L1810.5 956.4L1810.8 958.4L1811.0 960.4L1811.3 962.4L1811.5 964.4L1811.8 966.4L1812.0 968.3L1812.3 970.3L1812.5 972.3L1812.8 974.3L1813.0 976.3L1813.3 978.3L1813.5 980.2L1813.8 982.2L1814.0 984.2L1814.3 986.2L1814.5 988.2L1814.8 990.2L1815.0 992.2L1815.3 994.1L1815.5 996.1L1815.8 998.1L1816.0 1000.1L1816.3 1002.1L1816.5 1004.0L1816.8 1006.0L1817.1 1008.0L1817.3 1010.0L1817.6 1012.0L1817.8 1014.0L1818.1 1015.9L1818.3 1017.9L1818.6 1019.9L1818.9 1021.9L1819.1 1023.9L1819.4 1025.9L1819.6 1027.8L1819.9 1029.8L1820.2 1031.8L1820.4 1033.8L1820.7 1035.8L1820.9 1037.8L1821.2 1039.7L1821.5 1041.7L1821.7 1043.7L1822.0 1045.7L1822.3 1047.7L1822.5 1049.6L1822.8 1051.6L1823.1 1053.6L1823.3 1055.6L1823.6 1057.6L1823.9 1059.6L1824.1 1061.5L1824.4 1063.5L1824.7 1065.5L1824.9 1067.5L1825.2 1069.5L1825.5 1071.4L1825.7 1073.4L1826.0 1075.4L1826.3 1077.4L1826.6 1079.4L1826.8 1081.3L1827.1 1083.3L1827.4 1085.3L1827.7 1087.3L1827.9 1089.3L1828.2 1091.2L1828.5 1093.2L1828.8 1095.2L1829.1 1097.2L1829.3 1099.2L1829.6 1101.1L1829.9 1103.1L1830.2 1105.1L1830.5 1107.1L1830.7 1109.1L1831.0 1111.0L1831.3 1113.0L1831.6 1115.0L1831.9 1117.0L1832.2 1119.0L1832.5 1120.9L1832.7 1122.9L1833.0 1124.9L1833.3 1126.9L1833.6 1128.8L1833.9 1130.8L1834.2 1132.8L1834.5 1134.8L1834.8 1136.8L1835.1 1138.7L1835.4 1140.7L1835.7 1142.7L1835.9 1144.7L1836.2 1146.6L1836.5 1148.6L1836.8 1150.6L1837.1 1152.6L1837.4 1154.6L1837.7 1156.5L1838.0 1158.5L1838.3 1160.5L1838.6 1162.5L1838.9 1164.4L1839.2 1166.4L1839.6 1168.4L1839.9 1170.4L1840.2 1172.3L1840.5 1174.3L1840.8 1176.3L1841.1 1178.3L1841.4 1180.2L1841.7 1182.2L1842.0 1184.2L1842.3 1186.2L1842.6 1188.1L1843.0 1190.1L1843.3 1192.1L1843.6 1194.1L1843.9 1196.0L1844.2 1198.0L1844.6 1200.0L1844.9 1202.0L1845.2 1203.9L1845.5 1205.9L1845.8 1207.9L1846.2 1209.8L1846.5 1211.8L1846.8 1213.8L1847.1 1215.8L1847.5 1217.7L1847.8 1219.7L1848.1 1221.7L1848.5 1223.7L1848.8 1225.6L1849.1 1227.6L1849.5 1229.6L1849.8 1231.5L1850.2 1233.5L1850.5 1235.5L1850.8 1237.4L1851.2 1239.4L1851.5 1241.4L1851.9 1243.4L1852.2 1245.3L1852.6 1247.3L1852.9 1249.3L1853.3 1251.2L1853.6 1253.2L1854.0 1255.2L1854.3 1257.1L1854.7 1259.1L1855.1 1261.1L1855.4 1263.0L1855.8 1265.0L1856.1 1267.0L1856.5 1268.9L1856.9 1270.9L1857.2 1272.9L1857.6 1274.8L1858.0 1276.8L1858.3 1278.8L1858.7 1280.7L1859.1 1282.7L1859.5 1284.6L1859.9 1286.6L1860.2 1288.6L1860.6 1290.5L1861.0 1292.5L1861.4 1294.5L1861.8 1296.4L1862.2 1298.4L1862.5 1300.3L1862.9 1302.3L1863.3 1304.3L1863.7 1306.2L1864.1 1308.2L1864.5 1310.1L1864.9 1312.1L1865.3 1314.1L1865.7 1316.0L1866.1 1318.0L1866.6 1319.9L1867.0 1321.9L1867.4 1323.8L1867.8 1325.8L1868.2 1327.8L1868.6 1329.7L1869.0 1331.7L1869.5 1333.6L1869.9 1335.6L1870.3 1337.5L1870.7 1339.5L1871.2 1341.4L1871.6 1343.4L1872.0 1345.3L1872.5 1347.3L1872.9 1349.2L1873.3 1351.2L1873.8 1353.1L1874.2 1355.1L1874.7 1357.0L1875.1 1359.0L1875.6 1360.9L1876.0 1362.9L1876.5 1364.8L1876.9 1366.8L1877.4 1368.7L1877.9 1370.7L1878.3 1372.6L1878.8 1374.6L1879.3 1376.5L1879.7 1378.4L1880.2 1380.4L1880.7 1382.3L1881.2 1384.3L1881.6 1386.2L1882.1 1388.1L1882.6 1390.1L1883.1 1392.0L1883.6 1394.0L1884.1 1395.9L1884.6 1397.8L1885.1 1399.8L1885.6 1401.7L1886.1 1403.7L1886.6 1405.6L1887.1 1407.5L1887.6 1409.5L1888.1 1411.4L1888.6 1413.3L1889.1 1415.3L1889.6 1417.2L1890.1 1419.1L1890.7 1421.0L1891.2 1423.0L1891.7 1424.9L1892.3 1426.8L1892.8 1428.8L1893.3 1430.7L1893.9 1432.6L1894.4 1434.5L1895.0 1436.4L1895.5 1438.4L1896.1 1440.3L1896.7 1442.2L1897.2 1444.1L1897.8 1446.0L1898.4 1447.9L1899.0 1449.9L1899.5 1451.8L1900.1 1453.7L1900.7 1455.6L1901.3 1457.5L1901.9 1459.4L1902.5 1461.3L1903.1 1463.2L1903.8 1465.1L1904.4 1467.0L1905.0 1468.9L1905.7 1470.8L1906.3 1472.7L1906.9 1474.6L1907.6 1476.5L1908.2 1478.4L1908.9 1480.3L1909.6 1482.2L1910.2 1484.0L1910.9 1485.9L1911.6 1487.8L1912.3 1489.7L1913.0 1491.5L1913.7 1493.4L1914.4 1495.3L1915.1 1497.2L1915.8 1499.0L1916.6 1500.9L1917.3 1502.7L1918.0 1504.6L1918.8 1506.5L1919.5 1508.3L1920.3 1510.2L1921.1 1512.0L1921.8 1513.8L1922.6 1515.7L1923.4 1517.5L1924.2 1519.3L1925.0 1521.2L1925.8 1523.0L1926.7 1524.8L1927.5 1526.6L1928.3 1528.5L1929.2 1530.3L1930.0 1532.1L1930.9 1533.9L1931.7 1535.7L1932.6 1537.5L1933.5 1539.3L1934.4 1541.1L1935.3 1542.9L1936.2 1544.6L1937.1 1546.4L1938.0 1548.2L1939.0 1550.0L1939.9 1551.7L1940.9 1553.5L1941.8 1555.2L1942.8 1557.0L1943.8 1558.7L1944.8 1560.5L1945.8 1562.2L1946.8 1563.9L1947.8 1565.6L1948.9 1567.3L1949.9 1569.0L1951.0 1570.7L1952.0 1572.4L1953.1 1574.1L1954.2 1575.8L1955.3 1577.5L1956.4 1579.1L1957.5 1580.8L1958.7 1582.4L1959.8 1584.0L1961.0 1585.7L1962.2 1587.3L1963.3 1588.9L1964.5 1590.5L1965.7 1592.1L1967.0 1593.7L1968.2 1595.2L1969.5 1596.8L1970.7 1598.4L1972.0 1599.9L1973.3 1601.4L1974.6 1603.0L1975.9 1604.5L1977.2 1606.0L1978.6 1607.4L1979.9 1608.9L1981.3 1610.4L1982.7 1611.8L1984.1 1613.2L1985.5 1614.7L1986.9 1616.1L1988.3 1617.5L1989.8 1618.8L1991.2 1620.2L1992.7 1621.5L1994.2 1622.9L1995.7 1624.2L1997.2 1625.5L1998.8 1626.8L2000.3 1628.1L2001.9 1629.3L2003.4 1630.6L2005.0 1631.8L2006.6 1633.0L2008.2 1634.2L2009.8 1635.3L2011.5 1636.5L2013.1 1637.6L2014.7 1638.8L2016.4 1639.9L2018.1 1641.0L2019.8 1642.0L2021.5 1643.1L2023.2 1644.1L2024.9 1645.1L2026.6 1646.1L2028.4 1647.1L2030.1 1648.1L2031.9 1649.0L2033.7 1650.0L2035.5 1650.9L2037.2 1651.8L2039.0 1652.6L2040.9 1653.5L2042.7 1654.3L2044.5 1655.1L2046.3 1655.9L2048.2 1656.7L2050.0 1657.4L2051.9 1658.1L2053.8 1658.8L2055.6 1659.5L2057.5 1660.2L2059.4 1660.9L2061.3 1661.5L2063.2 1662.1L2065.1 1662.7L2067.0 1663.3L2069.0 1663.9L2070.9 1664.4L2072.8 1665.0L2074.7 1665.5L2076.7 1666.0L2078.6 1666.5L2080.5 1667.0L2082.5 1667.4L2084.4 1667.9L2086.4 1668.3L2088.3 1668.8L2090.3 1669.2L2092.2 1669.6L2094.2 1670.0L2096.2 1670.4L2098.1 1670.8L2100.1 1671.2L2102.1 1671.5L2104.0 1671.9L2106.0 1672.2L2108.0 1672.5L2109.9 1672.9L2111.9 1673.2L2113.9 1673.5L2115.9 1673.8L2117.8 1674.1L2119.8 1674.4L2121.8 1674.6L2123.8 1674.9L2125.8 1675.2L2127.7 1675.4L2129.7 1675.7L2131.7 1675.9L2133.7 1676.1L2135.7 1676.3L2137.7 1676.5L2139.7 1676.8L2141.7 1676.9L2143.6 1677.1L2145.6 1677.3L2147.6 1677.5L2149.6 1677.7L2151.6 1677.8L2153.6 1678.0L2155.6 1678.1L2157.6 1678.3L2159.6 1678.4L2161.6 1678.5L2163.6 1678.7L2165.6 1678.8L2167.6 1678.9L2169.6 1679.0L2171.6 1679.1L2173.6 1679.2L2175.6 1679.3L2177.6 1679.4L2179.6 1679.5L2181.6 1679.6L2183.6 1679.6L2185.5 1679.7L2187.5 1679.8L2189.5 1679.8L2191.5 1679.9L2193.5 1679.9L2195.5 1680.0L2197.5 1680.0L2199.5 1680.1L2201.5 1680.1L2203.5 1680.1L2205.5 1680.2L2207.5 1680.2L2209.5 1680.2L2211.5 1680.3L2213.5 1680.3L2215.5 1680.3" stroke="#69a510" stroke-linecap="butt"/>
<path d="M627.1 1681.3L629.1 1681.3L631.1 1681.3L633.1 1681.3L635.1 1681.3L637.1 1681.3L639.1 1681.3L641.1 1681.3L643.1 1681.3L645.1 1681.3L647.1 1681.3L649.1 1681.3L651.1 1681.3L653.1 1681.3L655.1 1681.3L657.1 1681.3L659.1 1681.3L661.1 1681.3L663.1 1681.3L665.1 1681.3L667.1 1681.3 M728.3 1681.3L730.3 1681.3L732.3 1681.3L734.3 1681.3L736.3 1681.3L738.3 1681.3L740.3 1681.3L742.3 1681.3L744.3 1681.3L746.3 1681.3L748.3 1681.3L750.3 1681.3L752.3 1681.3L754.3 1681.3L756.3 1681.3L758.3 1681.3L760.3 1681.3L762.3 1681.3L764.3 1681.3L766.3 1681.3L768.3 1681.3 M829.5 1681.3L831.5 1681.3L833.5 1681.3L835.5 1681.3L837.5 1681.3L839.5 1681.3L841.5 1681.3L843.5 1681.3L845.5 1681.3L847.5 1681.3L849.5 1681.3L851.5 1681.3L853.5 1681.3L855.5 1681.3L857.5 1681.3L859.5 1681.3L861.5 1681.3L863.5 1681.3L865.5 1681.3L867.5 1681.3L869.5 1681.3 M930.7 1681.2L932.7 1681.2L934.7 1681.2L936.7 1681.2L938.7 1681.2L940.7 1681.2L942.7 1681.1L944.7 1681.1L946.7 1681.1L948.7 1681.1L950.7 1681.1L952.7 1681.1L954.7 1681.1L956.7 1681.1L958.7 1681.1L960.7 1681.1L962.7 1681.1L964.7 1681.1L966.7 1681.0L968.7 1681.0L970.7 1681.0 M1031.9 1680.7L1033.9 1680.7L1035.9 1680.7L1037.9 1680.7L1039.9 1680.7L1041.9 1680.7L1043.9 1680.7L1045.9 1680.7L1047.9 1680.7L1049.9 1680.8L1051.9 1680.8L1053.9 1680.8L1055.9 1680.8L1057.9 1680.9L1059.9 1680.9L1061.9 1680.9L1063.9 1680.9L1065.9 1680.9L1067.9 1680.9L1069.9 1680.9L1071.9 1680.9 M1118.3 1667.6L1119.9 1666.5L1121.6 1665.3L1123.2 1664.1L1124.7 1662.9L1126.2 1661.6L1127.7 1660.3L1129.2 1658.9L1130.6 1657.5L1132.0 1656.0L1133.3 1654.6L1134.7 1653.1L1135.9 1651.5L1137.2 1650.0L1138.4 1648.4L1139.6 1646.8L1140.7 1645.1L1141.9 1643.5L1143.0 1641.8L1144.0 1640.1L1145.1 1638.4 M1171.6 1579.2L1172.2 1577.3L1172.8 1575.4L1173.4 1573.5L1174.0 1571.6L1174.6 1569.7L1175.2 1567.8L1175.8 1565.9L1176.4 1563.9L1176.9 1562.0L1177.5 1560.1L1178.0 1558.2L1178.5 1556.2L1179.1 1554.3L1179.6 1552.4L1180.1 1550.5L1180.6 1548.5L1181.1 1546.6L1181.6 1544.6L1182.1 1542.7L1182.5 1540.8 M1194.4 1481.0L1194.7 1479.0L1195.0 1477.0L1195.4 1475.0L1195.7 1473.1L1196.0 1471.1L1196.3 1469.1L1196.6 1467.1L1196.9 1465.2L1197.3 1463.2L1197.6 1461.2L1197.9 1459.2L1198.2 1457.3L1198.5 1455.3L1198.8 1453.3L1199.1 1451.3L1199.4 1449.4L1199.7 1447.4L1200.0 1445.4L1200.3 1443.4L1200.6 1441.4 M1209.4 1379.1L1209.6 1377.1L1209.9 1375.1L1210.2 1373.1L1210.4 1371.2L1210.7 1369.2L1211.0 1367.2L1211.2 1365.2L1211.5 1363.2L1211.7 1361.2L1212.0 1359.3L1212.2 1357.3L1212.5 1355.3L1212.7 1353.3L1213.0 1351.3L1213.3 1349.3L1213.5 1347.4L1213.8 1345.4L1214.0 1343.4L1214.3 1341.4L1214.5 1339.4 M1221.7 1279.9L1221.9 1277.9L1222.2 1275.9L1222.4 1273.9L1222.6 1271.9L1222.9 1269.9L1223.1 1268.0L1223.3 1266.0L1223.6 1264.0L1223.8 1262.0L1224.0 1260.0L1224.2 1258.0L1224.5 1256.0L1224.7 1254.1L1224.9 1252.1L1225.2 1250.1L1225.4 1248.1L1225.6 1246.1L1225.8 1244.1L1226.1 1242.1L1226.3 1240.1 M1233.4 1177.6L1233.6 1175.6L1233.8 1173.6L1234.1 1171.6L1234.3 1169.6L1234.5 1167.6L1234.7 1165.6L1235.0 1163.7L1235.2 1161.7L1235.4 1159.7L1235.6 1157.7L1235.9 1155.7L1236.1 1153.7L1236.3 1151.7L1236.6 1149.8L1236.8 1147.8L1237.0 1145.8L1237.2 1143.8L1237.5 1141.8L1237.7 1139.8L1237.9 1137.8 M1245.1 1077.3L1245.3 1075.3L1245.6 1073.3L1245.8 1071.3L1246.1 1069.3L1246.3 1067.4L1246.6 1065.4L1246.8 1063.4L1247.1 1061.4L1247.3 1059.4L1247.6 1057.4L1247.8 1055.4L1248.1 1053.5L1248.3 1051.5L1248.6 1049.5L1248.8 1047.5L1249.1 1045.5L1249.3 1043.5L1249.6 1041.6L1249.8 1039.6L1250.1 1037.6 M1258.3 977.2L1258.5 975.2L1258.8 973.2L1259.1 971.2L1259.4 969.3L1259.7 967.3L1260.0 965.3L1260.2 963.3L1260.5 961.3L1260.8 959.4L1261.1 957.4L1261.4 955.4L1261.7 953.4L1262.0 951.4L1262.3 949.5L1262.6 947.5L1262.9 945.5L1263.2 943.5L1263.5 941.6L1263.8 939.6L1264.1 937.6 M1273.8 885.6L1274.4 883.7L1275.0 881.8L1275.7 879.9L1276.5 878.0L1277.2 876.2L1278.1 874.4L1278.9 872.6L1279.8 870.8L1280.8 869.0L1281.8 867.3L1282.8 865.6L1283.9 863.9L1285.1 862.3L1286.4 860.8L1287.8 859.3L1289.4 858.1L1291.2 857.4L1293.2 857.6L1294.9 858.6L1296.3 860.0 M1313.6 926.3L1314.0 928.3L1314.3 930.2L1314.7 932.2L1315.1 934.1L1315.5 936.1L1315.8 938.1L1316.2 940.0L1316.6 942.0L1317.0 944.0L1317.4 945.9L1317.7 947.9L1318.1 949.9L1318.5 951.8L1318.9 953.8L1319.2 955.8L1319.6 957.7L1320.0 959.7L1320.3 961.7L1320.7 963.6L1321.0 965.6 M1332.7 1042.7L1333.0 1044.6L1333.3 1046.6L1333.5 1048.6L1333.8 1050.6L1334.0 1052.6L1334.3 1054.6L1334.5 1056.6L1334.8 1058.5L1335.0 1060.5L1335.3 1062.5L1335.5 1064.5L1335.8 1066.5L1336.0 1068.5L1336.2 1070.4L1336.5 1072.4L1336.7 1074.4L1337.0 1076.4L1337.2 1078.4L1337.4 1080.4L1337.7 1082.4 M1344.7 1142.9L1345.0 1144.9L1345.2 1146.9L1345.5 1148.9L1345.7 1150.9L1345.9 1152.9L1346.2 1154.8L1346.4 1156.8L1346.6 1158.8L1346.9 1160.8L1347.1 1162.8L1347.4 1164.8L1347.6 1166.7L1347.8 1168.7L1348.1 1170.7L1348.3 1172.7L1348.6 1174.7L1348.8 1176.7L1349.1 1178.7L1349.3 1180.6L1349.6 1182.6 M1357.3 1243.1L1357.6 1245.1L1357.8 1247.1L1358.1 1249.1L1358.4 1251.0L1358.6 1253.0L1358.9 1255.0L1359.2 1257.0L1359.4 1259.0L1359.7 1260.9L1360.0 1262.9L1360.2 1264.9L1360.5 1266.9L1360.8 1268.9L1361.0 1270.9L1361.3 1272.8L1361.6 1274.8L1361.9 1276.8L1362.1 1278.8L1362.4 1280.8L1362.7 1282.7 M1371.4 1344.1L1371.7 1346.1L1372.0 1348.1L1372.2 1350.0L1372.5 1352.0L1372.8 1354.0L1373.1 1356.0L1373.4 1358.0L1373.7 1359.9L1374.0 1361.9L1374.3 1363.9L1374.7 1365.9L1375.0 1367.8L1375.3 1369.8L1375.6 1371.8L1375.9 1373.8L1376.2 1375.7L1376.5 1377.7L1376.8 1379.7L1377.2 1381.7L1377.5 1383.6 M1388.5 1443.6L1388.9 1445.6L1389.3 1447.5L1389.7 1449.5L1390.1 1451.4L1390.5 1453.4L1391.0 1455.3L1391.4 1457.3L1391.8 1459.3L1392.3 1461.2L1392.7 1463.2L1393.1 1465.1L1393.6 1467.1L1394.0 1469.0L1394.5 1471.0L1394.9 1472.9L1395.4 1474.8L1395.9 1476.8L1396.3 1478.7L1396.8 1480.7L1397.3 1482.6 M1413.8 1540.3L1414.5 1542.1L1415.1 1544.0L1415.8 1545.9L1416.5 1547.8L1417.1 1549.7L1417.8 1551.6L1418.5 1553.4L1419.2 1555.3L1419.9 1557.2L1420.7 1559.0L1421.4 1560.9L1422.1 1562.8L1422.9 1564.6L1423.7 1566.5L1424.4 1568.3L1425.2 1570.1L1426.0 1572.0L1426.8 1573.8L1427.6 1575.6L1428.4 1577.5 M1456.8 1626.8L1458.0 1628.4L1459.2 1630.0L1460.4 1631.6L1461.6 1633.1L1462.9 1634.7L1464.1 1636.3L1465.4 1637.8L1466.7 1639.3L1468.0 1640.9L1469.3 1642.4L1470.6 1643.9L1472.0 1645.4L1473.3 1646.8L1474.7 1648.3L1476.0 1649.8L1477.4 1651.2L1478.8 1652.6L1480.3 1654.0L1481.7 1655.4L1483.1 1656.8 M1537.7 1680.3L1539.7 1680.4L1541.7 1680.4L1543.7 1680.5L1545.7 1680.5L1547.7 1680.5L1549.7 1680.6L1551.7 1680.6L1553.7 1680.6L1555.7 1680.6L1557.7 1680.6L1559.7 1680.6L1561.7 1680.7L1563.7 1680.7L1565.7 1680.7L1567.7 1680.7L1569.7 1680.7L1571.7 1680.7L1573.7 1680.7L1575.7 1680.7L1577.7 1680.8 M1639.7 1681.1L1641.7 1681.1L1643.7 1681.1L1645.7 1681.1L1647.7 1681.1L1649.7 1681.1L1651.7 1681.1L1653.7 1681.1L1655.7 1681.1L1657.7 1681.1L1659.7 1681.1L1661.7 1681.1L1663.7 1681.1L1665.7 1681.1L1667.7 1681.2L1669.7 1681.2L1671.7 1681.2L1673.7 1681.2L1675.7 1681.2L1677.7 1681.2L1679.7 1681.2 M1739.7 1681.3L1741.7 1681.3L1743.7 1681.3L1745.7 1681.3L1747.7 1681.3L1749.7 1681.3L1751.7 1681.3L1753.7 1681.3L1755.7 1681.3L1757.7 1681.3L1759.7 1681.3L1761.7 1681.3L1763.7 1681.3L1765.7 1681.3L1767.7 1681.3L1769.7 1681.3L1771.7 1681.3L1773.7 1681.3L1775.7 1681.3L1777.7 1681.3L1779.7 1681.3 M1841.6 1681.3L1843.6 1681.3L1845.6 1681.3L1847.6 1681.3L1849.6 1681.3L1851.6 1681.3L1853.6 1681.3L1855.6 1681.3L1857.6 1681.3L1859.6 1681.3L1861.6 1681.3L1863.6 1681.3L1865.6 1681.3L1867.6 1681.3L1869.6 1681.3L1871.6 1681.3L1873.6 1681.3L1875.6 1681.3L1877.6 1681.3L1879.6 1681.3L1881.6 1681.3 M1941.6 1681.3L1943.6 1681.3L1945.6 1681.3L1947.6 1681.3L1949.6 1681.3L1951.6 1681.3L1953.6 1681.3L1955.6 1681.3L1957.6 1681.3L1959.6 1681.3L1961.6 1681.3L1963.6 1681.3L1965.6 1681.3L1967.6 1681.3L1969.6 1681.3L1971.6 1681.3L1973.6 1681.3L1975.6 1681.3L1977.6 1681.3L1979.6 1681.3L1981.6 1681.3 M2043.6 1681.3L2045.6 1681.3L2047.6 1681.3L2049.6 1681.3L2051.6 1681.3L2053.6 1681.3L2055.6 1681.3L2057.6 1681.3L2059.6 1681.3L2061.6 1681.3L2063.6 1681.3L2065.6 1681.3L2067.6 1681.3L2069.6 1681.3L2071.6 1681.3L2073.6 1681.3L2075.6 1681.3L2077.6 1681.3L2079.6 1681.3L2081.6 1681.3L2083.6 1681.3 M2145.5 1681.3L2147.5 1681.3L2149.5 1681.3L2151.5 1681.3L2153.5 1681.3L2155.5 1681.3L2157.5 1681.3L2159.5 1681.3L2161.5 1681.3L2163.5 1681.3L2165.5 1681.3L2167.5 1681.3L2169.5 1681.3L2171.5 1681.3L2173.5 1681.3L2175.5 1681.3L2177.5 1681.3L2179.5 1681.3L2181.5 1681.3L2183.5 1681.3L2185.5 1681.3 M2195.5 1681.3L2197.5 1681.3L2199.5 1681.3L2201.5 1681.3L2203.5 1681.3L2205.5 1681.3L2207.5 1681.3L2209.5 1681.3L2211.5 1681.3L2213.5 1681.3L2215.5 1681.3" stroke="#69a510" stroke-linecap="round"/>
<path d="M620.0 1681.2L622.0 1681.2L624.0 1681.2L626.0 1681.2L628.0 1681.2L630.0 1681.2L632.0 1681.2L634.0 1681.2L636.0 1681.2L638.0 1681.2L640.0 1681.2L642.0 1681.2L644.0 1681.2L646.0 1681.2L648.0 1681.2L650.0 1681.2L652.0 1681.2L654.0 1681.2L656.0 1681.2L658.0 1681.2L660.0 1681.2L662.0 1681.2L664.0 1681.2L666.0 1681.1L668.0 1681.1L670.0 1681.1L672.0 1681.1L674.0 1681.1L676.0 1681.1L678.0 1681.1L680.0 1681.1L682.0 1681.1L684.0 1681.1L686.0 1681.1L688.0 1681.1L690.0 1681.1L692.0 1681.1L694.0 1681.1L696.0 1681.1L698.0 1681.1L700.0 1681.1L702.0 1681.0L704.0 1681.0L706.0 1681.0L708.0 1681.0L710.0 1681.0L712.0 1681.0L714.0 1681.0L716.0 1681.0L718.0 1681.0L720.0 1681.0L722.0 1681.0L724.0 1680.9L726.0 1680.9L728.0 1680.9L730.0 1680.9L732.0 1680.9L734.0 1680.9L736.0 1680.9L738.0 1680.9L740.0 1680.8L742.0 1680.8L744.0 1680.8L746.0 1680.8L748.0 1680.8L750.0 1680.8L752.0 1680.7L754.0 1680.7L756.0 1680.7L758.0 1680.7L759.9 1680.7L761.9 1680.7L763.9 1680.6L765.9 1680.6L767.9 1680.6L769.9 1680.6L771.9 1680.6L773.9 1680.5L775.9 1680.5L777.9 1680.5L779.9 1680.5L781.9 1680.5L783.9 1680.4L785.9 1680.4L787.9 1680.4L789.9 1680.4L791.9 1680.3L793.9 1680.3L795.9 1680.3L797.9 1680.3L799.9 1680.2L801.9 1680.2L803.9 1680.2L805.9 1680.2L807.9 1680.1L809.9 1680.1L811.9 1680.1L813.9 1680.0L815.9 1680.0L817.9 1680.0L819.9 1679.9L821.9 1679.9L823.9 1679.9L825.9 1679.9L827.9 1679.8L829.9 1679.8L831.9 1679.8L833.9 1679.7L835.9 1679.7L837.9 1679.6L839.9 1679.6L841.9 1679.6L843.9 1679.5L845.9 1679.5L847.9 1679.5L849.9 1679.4L851.9 1679.4L853.9 1679.3L855.9 1679.3L857.9 1679.3L859.9 1679.2L861.9 1679.2L863.9 1679.1L865.9 1679.1L867.9 1679.0L869.9 1679.0L871.9 1678.9L873.9 1678.9L875.9 1678.8L877.9 1678.8L879.9 1678.7L881.9 1678.7L883.9 1678.6L885.9 1678.6L887.9 1678.5L889.9 1678.4L891.9 1678.4L893.9 1678.3L895.9 1678.2L897.9 1678.2L899.9 1678.1L901.9 1678.0L903.9 1677.9L905.9 1677.9L907.9 1677.8L909.9 1677.7L911.9 1677.6L913.8 1677.5L915.8 1677.4L917.8 1677.3L919.8 1677.2L921.8 1677.1L923.8 1677.0L925.8 1676.8L927.8 1676.7L929.8 1676.6L931.8 1676.5L933.8 1676.3L935.8 1676.2L937.8 1676.0L939.8 1675.9L941.8 1675.7L943.8 1675.6L945.8 1675.4L947.8 1675.2L949.8 1675.1L951.7 1674.9L953.7 1674.7L955.7 1674.5L957.7 1674.3L959.7 1674.1L961.7 1673.9L963.7 1673.7L965.7 1673.5L967.7 1673.3L969.6 1673.0L971.6 1672.8L973.6 1672.5L975.6 1672.3L977.6 1672.0L979.6 1671.8L981.5 1671.5L983.5 1671.2L985.5 1670.9L987.5 1670.6L989.4 1670.3L991.4 1670.0L993.4 1669.7L995.4 1669.4L997.3 1669.0L999.3 1668.7L1001.3 1668.3L1003.2 1667.9L1005.2 1667.6L1007.2 1667.2L1009.1 1666.8L1011.1 1666.4L1013.0 1665.9L1015.0 1665.5L1016.9 1665.1L1018.9 1664.6L1020.8 1664.1L1022.8 1663.6L1024.7 1663.1L1026.6 1662.6L1028.6 1662.1L1030.5 1661.6L1032.4 1661.0L1034.3 1660.4L1036.2 1659.9L1038.1 1659.3L1040.0 1658.6L1041.9 1658.0L1043.8 1657.4L1045.7 1656.7L1047.6 1656.0L1049.5 1655.4L1051.4 1654.7L1053.2 1653.9L1055.1 1653.2L1056.9 1652.4L1058.8 1651.7L1060.6 1650.9L1062.4 1650.1L1064.3 1649.2L1066.1 1648.4L1067.9 1647.5L1069.7 1646.7L1071.5 1645.8L1073.2 1644.9L1075.0 1643.9L1076.8 1643.0L1078.5 1642.0L1080.3 1641.0L1082.0 1640.0L1083.7 1639.0L1085.4 1638.0L1087.1 1636.9L1088.8 1635.8L1090.5 1634.8L1092.2 1633.7L1093.8 1632.5L1095.5 1631.4L1097.1 1630.3L1098.7 1629.1L1100.3 1627.9L1101.9 1626.7L1103.5 1625.5L1105.1 1624.3L1106.7 1623.1L1108.2 1621.8L1109.8 1620.5L1111.3 1619.3L1112.8 1618.0L1114.4 1616.7L1115.9 1615.3L1117.3 1614.0L1118.8 1612.6L1120.3 1611.3L1121.7 1609.9L1123.2 1608.5L1124.6 1607.1L1126.0 1605.7L1127.4 1604.2L1128.8 1602.8L1130.1 1601.3L1131.5 1599.9L1132.8 1598.4L1134.1 1596.9L1135.4 1595.4L1136.7 1593.8L1138.0 1592.3L1139.3 1590.8L1140.5 1589.2L1141.8 1587.6L1143.0 1586.0L1144.2 1584.4L1145.4 1582.8L1146.5 1581.2L1147.7 1579.6L1148.8 1577.9L1150.0 1576.3L1151.1 1574.6L1152.2 1572.9L1153.2 1571.3L1154.3 1569.6L1155.3 1567.8L1156.3 1566.1L1157.3 1564.4L1158.3 1562.7L1159.3 1560.9L1160.3 1559.2L1161.2 1557.4L1162.1 1555.6L1163.0 1553.8L1163.9 1552.1L1164.8 1550.3L1165.7 1548.5L1166.6 1546.7L1167.4 1544.9L1168.2 1543.0L1169.1 1541.2L1169.9 1539.4L1170.7 1537.6L1171.4 1535.7L1172.2 1533.9L1173.0 1532.0L1173.7 1530.2L1174.5 1528.3L1175.2 1526.4L1175.9 1524.6L1176.6 1522.7L1177.3 1520.8L1178.0 1519.0L1178.7 1517.1L1179.4 1515.2L1180.1 1513.3L1180.7 1511.4L1181.4 1509.6L1182.0 1507.7L1182.7 1505.8L1183.3 1503.9L1184.0 1502.0L1184.6 1500.1L1185.2 1498.2L1185.8 1496.3L1186.5 1494.4L1187.1 1492.5L1187.7 1490.6L1188.3 1488.7L1188.9 1486.8L1189.5 1484.9L1190.1 1482.9L1190.7 1481.0L1191.3 1479.1L1191.8 1477.2L1192.4 1475.3L1193.0 1473.4L1193.6 1471.5L1194.2 1469.6L1194.8 1467.7L1195.3 1465.7L1195.9 1463.8L1196.5 1461.9L1197.0 1460.0L1197.6 1458.1L1198.2 1456.2L1198.7 1454.2L1199.3 1452.3L1199.8 1450.4L1200.4 1448.5L1200.9 1446.5L1201.5 1444.6L1202.0 1442.7L1202.6 1440.8L1203.1 1438.9L1203.7 1436.9L1204.2 1435.0L1204.7 1433.1L1205.3 1431.2L1205.8 1429.2L1206.3 1427.3L1206.8 1425.4L1207.4 1423.4L1207.9 1421.5L1208.4 1419.6L1208.9 1417.6L1209.4 1415.7L1210.0 1413.8L1210.5 1411.8L1211.0 1409.9L1211.5 1408.0L1212.0 1406.0L1212.5 1404.1L1213.0 1402.2L1213.5 1400.2L1214.0 1398.3L1214.5 1396.4L1215.0 1394.4L1215.5 1392.5L1216.0 1390.6L1216.4 1388.6L1216.9 1386.7L1217.4 1384.7L1217.9 1382.8L1218.4 1380.9L1218.8 1378.9L1219.3 1377.0L1219.8 1375.0L1220.3 1373.1L1220.7 1371.1L1221.2 1369.2L1221.7 1367.3L1222.1 1365.3L1222.6 1363.4L1223.1 1361.4L1223.5 1359.5L1224.0 1357.5L1224.4 1355.6L1224.9 1353.6L1225.3 1351.7L1225.8 1349.7L1226.2 1347.8L1226.7 1345.8L1227.1 1343.9L1227.6 1341.9L1228.0 1340.0L1228.4 1338.0L1228.9 1336.1L1229.3 1334.1L1229.7 1332.2L1230.2 1330.2L1230.6 1328.3L1231.0 1326.3L1231.5 1324.4L1231.9 1322.4L1232.3 1320.5L1232.7 1318.5L1233.2 1316.6L1233.6 1314.6L1234.0 1312.7L1234.4 1310.7L1234.8 1308.7L1235.2 1306.8L1235.7 1304.8L1236.1 1302.9L1236.5 1300.9L1236.9 1299.0L1237.3 1297.0L1237.7 1295.0L1238.1 1293.1L1238.5 1291.1L1238.9 1289.2L1239.3 1287.2L1239.7 1285.2L1240.1 1283.3L1240.5 1281.3L1240.9 1279.4L1241.3 1277.4L1241.7 1275.4L1242.1 1273.5L1242.5 1271.5L1242.8 1269.6L1243.2 1267.6L1243.6 1265.6L1244.0 1263.7L1244.4 1261.7L1244.8 1259.8L1245.1 1257.8L1245.5 1255.8L1245.9 1253.9L1246.3 1251.9L1246.7 1249.9L1247.0 1248.0L1247.4 1246.0L1247.8 1244.0L1248.1 1242.1L1248.5 1240.1L1248.9 1238.2L1249.3 1236.2L1249.6 1234.2L1250.0 1232.3L1250.4 1230.3L1250.7 1228.3L1251.1 1226.4L1251.4 1224.4L1251.8 1222.4L1252.2 1220.5L1252.5 1218.5L1252.9 1216.5L1253.2 1214.6L1253.6 1212.6L1254.0 1210.6L1254.3 1208.7L1254.7 1206.7L1255.0 1204.7L1255.4 1202.8L1255.7 1200.8L1256.1 1198.8L1256.4 1196.9L1256.8 1194.9L1257.1 1192.9L1257.5 1191.0L1257.8 1189.0L1258.2 1187.0L1258.5 1185.0L1258.9 1183.1L1259.2 1181.1L1259.6 1179.1L1259.9 1177.2L1260.3 1175.2L1260.6 1173.2L1261.0 1171.3L1261.3 1169.3L1261.7 1167.3L1262.0 1165.4L1262.3 1163.4L1262.7 1161.4L1263.0 1159.4L1263.4 1157.5L1263.7 1155.5L1264.1 1153.5L1264.4 1151.6L1264.7 1149.6L1265.1 1147.6L1265.4 1145.7L1265.8 1143.7L1266.1 1141.7L1266.4 1139.7L1266.8 1137.8L1267.1 1135.8L1267.5 1133.8L1267.8 1131.9L1268.1 1129.9L1268.5 1127.9L1268.8 1126.0L1269.1 1124.0L1269.5 1122.0L1269.8 1120.0L1270.2 1118.1L1270.5 1116.1L1270.8 1114.1L1271.2 1112.2L1271.5 1110.2L1271.8 1108.2L1272.2 1106.3L1272.5 1104.3L1272.9 1102.3L1273.2 1100.3L1273.5 1098.4L1273.9 1096.4L1274.2 1094.4L1274.6 1092.5L1274.9 1090.5L1275.2 1088.5L1275.6 1086.5L1275.9 1084.6L1276.3 1082.6L1276.6 1080.6L1276.9 1078.7L1277.3 1076.7L1277.6 1074.7L1278.0 1072.8L1278.3 1070.8L1278.6 1068.8L1279.0 1066.8L1279.3 1064.9L1279.7 1062.9L1280.0 1060.9L1280.4 1059.0L1280.7 1057.0L1281.0 1055.0L1281.4 1053.1L1281.7 1051.1L1282.1 1049.1L1282.4 1047.2L1282.8 1045.2L1283.1 1043.2L1283.5 1041.2L1283.8 1039.3L1284.2 1037.3L1284.5 1035.3L1284.9 1033.4L1285.3 1031.4L1285.7 1029.5L1286.0 1027.5L1286.4 1025.5L1286.8 1023.6L1287.2 1021.6L1287.6 1019.6L1288.0 1017.7L1288.4 1015.7L1288.9 1013.8L1289.3 1011.8L1289.7 1009.9L1290.2 1007.9L1290.6 1006.0L1291.1 1004.0L1291.6 1002.1L1292.1 1000.2L1292.6 998.2L1293.1 996.3L1293.6 994.4L1294.2 992.4L1294.7 990.5L1295.3 988.6L1295.8 986.7L1296.4 984.8L1297.0 982.9L1297.7 981.0L1298.3 979.1L1298.9 977.2L1299.6 975.3L1300.3 973.4L1300.9 971.5L1301.7 969.7L1302.4 967.8L1303.1 965.9L1303.9 964.1L1304.6 962.2L1305.4 960.4L1306.2 958.6L1307.1 956.8L1307.9 955.0L1308.8 953.2L1309.8 951.4L1310.8 949.7L1311.9 948.0L1313.0 946.4L1314.3 944.8L1315.6 943.3L1317.0 941.9L1318.6 940.6L1320.2 939.5L1322.0 938.6L1323.8 937.9L1325.8 937.4L1327.8 937.2L1329.8 937.1L1331.8 937.3L1333.7 937.7L1335.7 938.1L1337.6 938.7L1339.5 939.3L1341.4 940.0L1343.2 940.8L1345.0 941.6L1346.8 942.5L1348.6 943.4L1350.3 944.4L1352.1 945.4L1353.8 946.4L1355.5 947.5L1357.1 948.6L1358.8 949.7L1360.4 950.9L1362.0 952.1L1363.6 953.3L1365.2 954.5L1366.7 955.8L1368.3 957.1L1369.8 958.4L1371.3 959.7L1372.8 961.0L1374.2 962.4L1375.7 963.8L1377.2 965.1L1378.6 966.5L1380.1 967.9L1381.5 969.2L1383.0 970.6L1384.5 971.9L1386.0 973.3L1387.5 974.6L1389.0 975.9L1390.5 977.2L1392.1 978.4L1393.6 979.7L1395.2 980.9L1396.8 982.1L1398.5 983.2L1400.1 984.4L1401.8 985.4L1403.5 986.5L1405.2 987.5L1407.0 988.4L1408.8 989.3L1410.6 990.2L1412.4 990.9L1414.3 991.6L1416.2 992.2L1418.2 992.7L1420.1 993.0L1422.1 993.2L1424.1 993.2L1426.1 992.9L1428.0 992.4L1429.8 991.5L1431.5 990.4L1432.9 989.0L1434.3 987.5L1435.5 986.0L1436.7 984.3L1437.8 982.6L1438.8 980.9L1439.8 979.2L1440.8 977.5L1441.8 975.7L1442.7 974.0L1443.6 972.2L1444.5 970.4L1445.4 968.6L1446.3 966.8L1447.2 965.0L1448.0 963.2L1448.8 961.4L1449.6 959.5L1450.4 957.7L1451.1 955.9L1451.9 954.0L1452.6 952.1L1453.3 950.3L1454.0 948.4L1454.7 946.5L1455.4 944.6L1456.0 942.7L1456.7 940.8L1457.3 938.9L1457.9 937.0L1458.5 935.1L1459.1 933.2L1459.6 931.3L1460.2 929.4L1460.7 927.5L1461.3 925.5L1461.8 923.6L1462.3 921.7L1462.8 919.7L1463.3 917.8L1463.8 915.9L1464.2 913.9L1464.7 912.0L1465.2 910.0L1465.6 908.1L1466.1 906.1L1466.5 904.2L1466.9 902.2L1467.4 900.3L1467.8 898.3L1468.2 896.4L1468.6 894.4L1469.0 892.4L1469.4 890.5L1469.8 888.5L1470.2 886.6L1470.6 884.6L1471.0 882.6L1471.4 880.7L1471.8 878.7L1472.1 876.8L1472.5 874.8L1472.9 872.8L1473.3 870.9L1473.7 868.9L1474.0 866.9L1474.4 865.0L1474.8 863.0L1475.1 861.0L1475.5 859.1L1475.9 857.1L1476.2 855.2L1476.6 853.2L1477.0 851.2L1477.3 849.3L1477.7 847.3L1478.1 845.3L1478.4 843.4L1478.8 841.4L1479.1 839.4L1479.5 837.5L1479.8 835.5L1480.2 833.5L1480.5 831.5L1480.9 829.6L1481.2 827.6L1481.6 825.6L1481.9 823.7L1482.3 821.7L1482.6 819.7L1483.0 817.8L1483.3 815.8L1483.7 813.8L1484.0 811.9L1484.4 809.9L1484.7 807.9L1485.1 806.0L1485.4 804.0L1485.8 802.0L1486.1 800.1L1486.5 798.1L1486.8 796.1L1487.2 794.1L1487.5 792.2L1487.9 790.2L1488.2 788.2L1488.6 786.3L1488.9 784.3L1489.3 782.3L1489.7 780.4L1490.0 778.4L1490.4 776.4L1490.7 774.5L1491.1 772.5L1491.4 770.5L1491.8 768.6L1492.2 766.6L1492.5 764.6L1492.9 762.7L1493.3 760.7L1493.6 758.7L1494.0 756.8L1494.4 754.8L1494.7 752.8L1495.1 750.9L1495.5 748.9L1495.9 747.0L1496.2 745.0L1496.6 743.0L1497.0 741.1L1497.4 739.1L1497.8 737.1L1498.2 735.2L1498.6 733.2L1499.0 731.3L1499.3 729.3L1499.7 727.3L1500.1 725.4L1500.6 723.4L1501.0 721.5L1501.4 719.5L1501.8 717.6L1502.2 715.6L1502.6 713.6L1503.0 711.7L1503.5 709.7L1503.9 707.8L1504.3 705.8L1504.7 703.9L1505.2 701.9L1505.6 700.0L1506.0 698.0L1506.5 696.1L1506.9 694.1L1507.4 692.2L1507.8 690.2L1508.3 688.3L1508.8 686.4L1509.3 684.4L1509.8 682.5L1510.4 680.6L1511.0 678.7L1511.7 676.8L1512.5 675.0L1513.3 673.1L1514.2 671.4L1515.3 669.6L1516.4 668.0L1517.6 666.4L1518.9 664.9L1520.4 663.5L1522.1 662.5L1524.0 662.3L1525.9 663.1L1527.3 664.4L1528.6 665.9L1529.7 667.6L1530.7 669.4L1531.6 671.1L1532.4 673.0L1533.2 674.8L1534.0 676.6L1534.8 678.5L1535.6 680.3L1536.3 682.2L1537.1 684.0L1537.8 685.9L1538.5 687.8L1539.2 689.6L1539.8 691.5L1540.5 693.4L1541.1 695.3L1541.8 697.2L1542.4 699.1L1543.1 701.0L1543.7 702.9L1544.3 704.8L1545.0 706.7L1545.6 708.6L1546.3 710.5L1546.9 712.3L1547.5 714.2L1548.2 716.1L1548.8 718.0L1549.5 719.9L1550.1 721.8L1550.8 723.7L1551.4 725.6L1552.1 727.5L1552.7 729.4L1553.4 731.3L1554.0 733.1L1554.7 735.0L1555.4 736.9L1556.1 738.8L1556.8 740.7L1557.5 742.5L1558.2 744.4L1558.9 746.3L1559.6 748.1L1560.3 750.0L1561.1 751.8L1561.9 753.7L1562.6 755.5L1563.4 757.4L1564.2 759.2L1565.0 761.0L1565.8 762.9L1566.7 764.7L1567.5 766.5L1568.4 768.3L1569.3 770.1L1570.2 771.9L1571.1 773.6L1572.0 775.4L1573.1 777.1L1574.2 778.7L1575.7 780.1L1577.5 780.9L1579.4 780.7L1581.2 779.9L1582.9 778.7L1584.4 777.4L1585.8 776.0L1587.1 774.5L1588.4 773.0L1589.6 771.4L1590.8 769.8L1591.9 768.1L1592.9 766.4L1593.8 764.6L1594.7 762.8L1595.6 761.0L1596.4 759.2L1597.1 757.3L1597.8 755.4L1598.5 753.6L1599.1 751.7L1599.8 749.8L1600.4 747.9L1601.0 746.0L1601.6 744.1L1602.3 742.2L1602.9 740.3L1603.5 738.4L1604.2 736.5L1604.8 734.6L1605.4 732.7L1606.0 730.8L1606.6 728.9L1607.3 727.0L1607.9 725.1L1608.5 723.2L1609.1 721.3L1609.7 719.4L1610.3 717.5L1610.9 715.6L1611.5 713.6L1612.1 711.7L1612.6 709.8L1613.2 707.9L1613.8 706.0L1614.3 704.1L1614.9 702.1L1615.4 700.2L1615.9 698.3L1616.5 696.4L1617.0 694.4L1617.5 692.5L1618.0 690.6L1618.5 688.6L1619.0 686.7L1619.4 684.7L1619.9 682.8L1620.4 680.9L1620.9 678.9L1621.4 677.0L1621.9 675.1L1622.4 673.1L1622.9 671.2L1623.4 669.3L1624.0 667.3L1624.5 665.4L1625.1 663.5L1625.7 661.6L1626.3 659.7L1626.9 657.8L1627.5 655.9L1628.2 654.0L1628.8 652.1L1629.5 650.2L1630.2 648.3L1630.9 646.5L1631.6 644.6L1632.4 642.8L1633.1 640.9L1633.9 639.0L1634.6 637.2L1635.4 635.4L1636.2 633.5L1637.1 631.7L1637.9 629.9L1638.8 628.1L1639.8 626.4L1640.8 624.6L1641.8 622.9L1642.9 621.3L1644.1 619.6L1645.3 618.1L1646.6 616.5L1648.0 615.1L1649.5 613.8L1651.2 612.8L1653.1 612.1L1655.1 612.1L1657.0 612.7L1658.7 613.7L1660.3 614.9L1661.8 616.2L1663.1 617.7L1664.4 619.2L1665.6 620.8L1666.8 622.4L1668.0 624.1L1669.1 625.7L1670.1 627.4L1671.2 629.1L1672.2 630.9L1673.1 632.6L1674.0 634.4L1674.9 636.2L1675.7 638.0L1676.6 639.8L1677.3 641.7L1678.1 643.5L1678.8 645.4L1679.5 647.3L1680.2 649.2L1680.8 651.1L1681.5 652.9L1682.1 654.9L1682.7 656.8L1683.3 658.7L1683.8 660.6L1684.4 662.5L1685.0 664.4L1685.5 666.3L1686.0 668.3L1686.6 670.2L1687.1 672.1L1687.7 674.0L1688.2 676.0L1688.7 677.9L1689.3 679.8L1689.8 681.8L1690.3 683.7L1690.8 685.6L1691.3 687.6L1691.8 689.5L1692.4 691.4L1692.9 693.4L1693.4 695.3L1693.9 697.2L1694.4 699.2L1694.9 701.1L1695.3 703.0L1695.8 705.0L1696.3 706.9L1696.8 708.9L1697.3 710.8L1697.8 712.7L1698.2 714.7L1698.7 716.6L1699.2 718.6L1699.7 720.5L1700.1 722.4L1700.6 724.4L1701.0 726.3L1701.5 728.3L1702.0 730.2L1702.4 732.2L1702.9 734.1L1703.3 736.1L1703.7 738.0L1704.2 740.0L1704.6 741.9L1705.1 743.9L1705.5 745.8L1705.9 747.8L1706.4 749.7L1706.8 751.7L1707.2 753.6L1707.6 755.6L1708.1 757.5L1708.5 759.5L1708.9 761.5L1709.3 763.4L1709.7 765.4L1710.1 767.3L1710.5 769.3L1710.9 771.2L1711.3 773.2L1711.8 775.2L1712.1 777.1L1712.5 779.1L1712.9 781.0L1713.3 783.0L1713.7 785.0L1714.1 786.9L1714.5 788.9L1714.9 790.8L1715.3 792.8L1715.7 794.8L1716.0 796.7L1716.4 798.7L1716.8 800.7L1717.2 802.6L1717.5 804.6L1717.9 806.5L1718.3 808.5L1718.6 810.5L1719.0 812.4L1719.4 814.4L1719.7 816.4L1720.1 818.3L1720.5 820.3L1720.8 822.3L1721.2 824.2L1721.5 826.2L1721.9 828.2L1722.2 830.1L1722.6 832.1L1722.9 834.1L1723.3 836.1L1723.6 838.0L1724.0 840.0L1724.3 842.0L1724.6 843.9L1725.0 845.9L1725.3 847.9L1725.6 849.8L1726.0 851.8L1726.3 853.8L1726.7 855.8L1727.0 857.7L1727.3 859.7L1727.6 861.7L1728.0 863.6L1728.3 865.6L1728.6 867.6L1728.9 869.6L1729.3 871.5L1729.6 873.5L1729.9 875.5L1730.2 877.5L1730.5 879.4L1730.9 881.4L1731.2 883.4L1731.5 885.4L1731.8 887.3L1732.1 889.3L1732.4 891.3L1732.7 893.2L1733.1 895.2L1733.4 897.2L1733.7 899.2L1734.0 901.1L1734.3 903.1L1734.6 905.1L1734.9 907.1L1735.2 909.1L1735.5 911.0L1735.8 913.0L1736.1 915.0L1736.4 917.0L1736.7 918.9L1737.0 920.9L1737.3 922.9L1737.6 924.9L1737.9 926.8L1738.2 928.8L1738.5 930.8L1738.8 932.8L1739.1 934.8L1739.4 936.7L1739.7 938.7L1740.0 940.7L1740.3 942.7L1740.6 944.6L1740.9 946.6L1741.1 948.6L1741.4 950.6L1741.7 952.5L1742.0 954.5L1742.3 956.5L1742.6 958.5L1742.9 960.5L1743.2 962.4L1743.5 964.4L1743.7 966.4L1744.0 968.4L1744.3 970.4L1744.6 972.3L1744.9 974.3L1745.2 976.3L1745.5 978.3L1745.8 980.2L1746.0 982.2L1746.3 984.2L1746.6 986.2L1746.9 988.2L1747.2 990.1L1747.5 992.1L1747.7 994.1L1748.0 996.1L1748.3 998.1L1748.6 1000.0L1748.9 1002.0L1749.2 1004.0L1749.5 1006.0L1749.7 1008.0L1750.0 1009.9L1750.3 1011.9L1750.6 1013.9L1750.9 1015.9L1751.2 1017.8L1751.5 1019.8L1751.7 1021.8L1752.0 1023.8L1752.3 1025.8L1752.6 1027.7L1752.9 1029.7L1753.2 1031.7L1753.5 1033.7L1753.7 1035.7L1754.0 1037.6L1754.3 1039.6L1754.6 1041.6L1754.9 1043.6L1755.2 1045.5L1755.5 1047.5L1755.8 1049.5L1756.0 1051.5L1756.3 1053.5L1756.6 1055.4L1756.9 1057.4L1757.2 1059.4L1757.5 1061.4L1757.8 1063.3L1758.1 1065.3L1758.4 1067.3L1758.7 1069.3L1759.0 1071.3L1759.3 1073.2L1759.6 1075.2L1759.9 1077.2L1760.2 1079.2L1760.5 1081.1L1760.8 1083.1L1761.1 1085.1L1761.4 1087.1L1761.7 1089.0L1762.0 1091.0L1762.3 1093.0L1762.6 1095.0L1762.9 1097.0L1763.2 1098.9L1763.5 1100.9L1763.8 1102.9L1764.1 1104.9L1764.4 1106.8L1764.7 1108.8L1765.0 1110.8L1765.3 1112.8L1765.6 1114.7L1765.9 1116.7L1766.3 1118.7L1766.6 1120.7L1766.9 1122.6L1767.2 1124.6L1767.5 1126.6L1767.8 1128.6L1768.1 1130.5L1768.5 1132.5L1768.8 1134.5L1769.1 1136.4L1769.4 1138.4L1769.7 1140.4L1770.1 1142.4L1770.4 1144.3L1770.7 1146.3L1771.0 1148.3L1771.4 1150.3L1771.7 1152.2L1772.0 1154.2L1772.3 1156.2L1772.7 1158.2L1773.0 1160.1L1773.3 1162.1L1773.6 1164.1L1774.0 1166.0L1774.3 1168.0L1774.6 1170.0L1775.0 1172.0L1775.3 1173.9L1775.6 1175.9L1776.0 1177.9L1776.3 1179.8L1776.7 1181.8L1777.0 1183.8L1777.3 1185.7L1777.7 1187.7L1778.0 1189.7L1778.3 1191.7L1778.7 1193.6L1779.0 1195.6L1779.4 1197.6L1779.7 1199.5L1780.1 1201.5L1780.4 1203.5L1780.7 1205.4L1781.1 1207.4L1781.4 1209.4L1781.8 1211.4L1782.1 1213.3L1782.5 1215.3L1782.8 1217.3L1783.2 1219.2L1783.5 1221.2L1783.9 1223.2L1784.2 1225.1L1784.6 1227.1L1784.9 1229.1L1785.3 1231.0L1785.7 1233.0L1786.0 1235.0L1786.4 1236.9L1786.7 1238.9L1787.1 1240.9L1787.4 1242.8L1787.8 1244.8L1788.2 1246.8L1788.5 1248.7L1788.9 1250.7L1789.2 1252.7L1789.6 1254.6L1790.0 1256.6L1790.3 1258.6L1790.7 1260.5L1791.1 1262.5L1791.4 1264.5L1791.8 1266.4L1792.2 1268.4L1792.5 1270.4L1792.9 1272.3L1793.3 1274.3L1793.6 1276.3L1794.0 1278.2L1794.4 1280.2L1794.8 1282.1L1795.1 1284.1L1795.5 1286.1L1795.9 1288.0L1796.3 1290.0L1796.6 1292.0L1797.0 1293.9L1797.4 1295.9L1797.8 1297.9L1798.1 1299.8L1798.5 1301.8L1798.9 1303.7L1799.3 1305.7L1799.7 1307.7L1800.0 1309.6L1800.4 1311.6L1800.8 1313.6L1801.2 1315.5L1801.6 1317.5L1802.0 1319.4L1802.3 1321.4L1802.7 1323.4L1803.1 1325.3L1803.5 1327.3L1803.9 1329.2L1804.3 1331.2L1804.7 1333.2L1805.1 1335.1L1805.5 1337.1L1805.9 1339.1L1806.2 1341.0L1806.6 1343.0L1807.0 1344.9L1807.4 1346.9L1807.8 1348.8L1808.2 1350.8L1808.6 1352.8L1809.0 1354.7L1809.5 1356.7L1809.9 1358.6L1810.3 1360.6L1810.7 1362.6L1811.1 1364.5L1811.5 1366.5L1811.9 1368.4L1812.4 1370.4L1812.8 1372.3L1813.2 1374.3L1813.6 1376.2L1814.1 1378.2L1814.5 1380.1L1814.9 1382.1L1815.4 1384.0L1815.8 1386.0L1816.2 1387.9L1816.7 1389.9L1817.1 1391.8L1817.6 1393.8L1818.0 1395.7L1818.5 1397.7L1819.0 1399.6L1819.4 1401.6L1819.9 1403.5L1820.4 1405.5L1820.8 1407.4L1821.3 1409.3L1821.8 1411.3L1822.3 1413.2L1822.8 1415.2L1823.3 1417.1L1823.8 1419.0L1824.3 1421.0L1824.8 1422.9L1825.3 1424.8L1825.8 1426.8L1826.3 1428.7L1826.8 1430.6L1827.3 1432.6L1827.9 1434.5L1828.4 1436.4L1828.9 1438.3L1829.5 1440.3L1830.0 1442.2L1830.6 1444.1L1831.1 1446.0L1831.7 1447.9L1832.3 1449.9L1832.8 1451.8L1833.4 1453.7L1834.0 1455.6L1834.6 1457.5L1835.2 1459.4L1835.8 1461.3L1836.4 1463.2L1837.0 1465.1L1837.6 1467.0L1838.2 1469.0L1838.8 1470.8L1839.5 1472.7L1840.1 1474.6L1840.7 1476.5L1841.4 1478.4L1842.0 1480.3L1842.7 1482.2L1843.4 1484.1L1844.0 1486.0L1844.7 1487.9L1845.4 1489.7L1846.1 1491.6L1846.8 1493.5L1847.5 1495.4L1848.2 1497.2L1848.9 1499.1L1849.6 1501.0L1850.4 1502.8L1851.1 1504.7L1851.9 1506.5L1852.6 1508.4L1853.4 1510.2L1854.1 1512.1L1854.9 1513.9L1855.7 1515.8L1856.5 1517.6L1857.2 1519.4L1858.0 1521.3L1858.9 1523.1L1859.7 1524.9L1860.5 1526.8L1861.3 1528.6L1862.1 1530.4L1863.0 1532.2L1863.8 1534.0L1864.7 1535.8L1865.6 1537.6L1866.4 1539.4L1867.3 1541.2L1868.2 1543.0L1869.1 1544.8L1870.0 1546.6L1870.9 1548.4L1871.8 1550.1L1872.8 1551.9L1873.7 1553.7L1874.6 1555.4L1875.6 1557.2L1876.5 1559.0L1877.5 1560.7L1878.5 1562.4L1879.5 1564.2L1880.5 1565.9L1881.5 1567.7L1882.5 1569.4L1883.5 1571.1L1884.5 1572.8L1885.6 1574.5L1886.6 1576.2L1887.6 1577.9L1888.7 1579.6L1889.8 1581.3L1890.9 1583.0L1891.9 1584.7L1893.0 1586.3L1894.2 1588.0L1895.3 1589.7L1896.4 1591.3L1897.5 1593.0L1898.7 1594.6L1899.8 1596.2L1901.0 1597.9L1902.2 1599.5L1903.3 1601.1L1904.5 1602.7L1905.7 1604.3L1906.9 1605.9L1908.2 1607.5L1909.4 1609.1L1910.6 1610.6L1911.9 1612.2L1913.1 1613.7L1914.4 1615.3L1915.7 1616.8L1917.0 1618.4L1918.3 1619.9L1919.6 1621.4L1920.9 1622.9L1922.2 1624.4L1923.6 1625.9L1924.9 1627.3L1926.3 1628.8L1927.7 1630.2L1929.1 1631.7L1930.5 1633.1L1931.9 1634.5L1933.4 1635.8L1934.8 1637.2L1936.3 1638.5L1937.8 1639.9L1939.3 1641.2L1940.9 1642.5L1942.4 1643.7L1944.0 1645.0L1945.6 1646.2L1947.2 1647.4L1948.8 1648.5L1950.4 1649.7L1952.1 1650.8L1953.8 1651.9L1955.5 1652.9L1957.2 1653.9L1958.9 1654.9L1960.7 1655.9L1962.4 1656.8L1964.2 1657.8L1966.0 1658.6L1967.8 1659.5L1969.6 1660.3L1971.5 1661.1L1973.3 1661.9L1975.2 1662.6L1977.0 1663.3L1978.9 1664.0L1980.8 1664.7L1982.7 1665.3L1984.6 1666.0L1986.5 1666.6L1988.4 1667.1L1990.4 1667.7L1992.3 1668.2L1994.2 1668.7L1996.2 1669.1L1998.1 1669.6L2000.1 1670.0L2002.0 1670.4L2004.0 1670.8L2006.0 1671.1L2007.9 1671.5L2009.9 1671.8L2011.9 1672.1L2013.9 1672.4L2015.8 1672.6L2017.8 1672.9L2019.8 1673.1L2021.8 1673.3L2023.8 1673.6L2025.8 1673.8L2027.8 1674.0L2029.8 1674.1L2031.7 1674.3L2033.7 1674.5L2035.7 1674.6L2037.7 1674.8L2039.7 1674.9L2041.7 1675.1L2043.7 1675.2L2045.7 1675.4L2047.7 1675.5L2049.7 1675.7L2051.7 1675.8L2053.7 1675.9L2055.7 1676.1L2057.7 1676.2L2059.7 1676.4L2061.7 1676.5L2063.6 1676.6L2065.6 1676.8L2067.6 1676.9L2069.6 1677.0L2071.6 1677.2L2073.6 1677.3L2075.6 1677.4L2077.6 1677.5L2079.6 1677.6L2081.6 1677.8L2083.6 1677.9L2085.6 1678.0L2087.6 1678.1L2089.6 1678.2L2091.6 1678.3L2093.6 1678.4L2095.6 1678.5L2097.6 1678.6L2099.6 1678.7L2101.6 1678.8L2103.6 1678.8L2105.6 1678.9L2107.6 1679.0L2109.6 1679.1L2111.6 1679.1L2113.6 1679.2L2115.6 1679.3L2117.6 1679.3L2119.6 1679.4L2121.6 1679.4L2123.6 1679.5L2125.5 1679.5L2127.5 1679.6L2129.5 1679.6L2131.5 1679.7L2133.5 1679.7L2135.5 1679.8L2137.5 1679.8L2139.5 1679.8L2141.5 1679.9L2143.5 1679.9L2145.5 1679.9L2147.5 1680.0L2149.5 1680.0L2151.5 1680.0L2153.5 1680.1L2155.5 1680.1L2157.5 1680.1L2159.5 1680.1L2161.5 1680.2L2163.5 1680.2L2165.5 1680.2L2167.5 1680.3L2169.5 1680.3L2171.5 1680.3L2173.5 1680.3L2175.5 1680.4L2177.5 1680.4L2179.5 1680.4L2181.5 1680.4L2183.5 1680.5L2185.5 1680.5L2187.5 1680.5L2189.5 1680.5L2191.5 1680.6L2193.5 1680.6L2195.5 1680.6L2197.5 1680.7L2199.5 1680.7L2201.5 1680.7L2203.5 1680.8L2205.5 1680.8L2207.5 1680.9L2209.5 1680.9L2211.5 1681.0L2213.5 1681.0L2215.5 1681.1" stroke="#ff6a6a" stroke-linecap="butt"/>
<path d="M625.2 1681.4L627.2 1681.3L629.2 1681.3L631.2 1681.3L633.2 1681.3L635.2 1681.3L637.2 1681.3L639.2 1681.3L641.2 1681.3L643.2 1681.3L645.2 1681.3L647.2 1681.3L649.2 1681.3L651.2 1681.3L653.2 1681.3L655.2 1681.3L657.2 1681.3L659.2 1681.3L661.2 1681.3L663.2 1681.3L665.2 1681.3 M726.4 1681.3L728.4 1681.3L730.4 1681.3L732.4 1681.3L734.4 1681.3L736.4 1681.3L738.4 1681.3L740.4 1681.3L742.4 1681.3L744.4 1681.3L746.4 1681.3L748.4 1681.3L750.4 1681.3L752.4 1681.3L754.4 1681.3L756.4 1681.3L758.4 1681.3L760.4 1681.3L762.4 1681.3L764.4 1681.3L766.4 1681.3 M827.6 1681.3L829.6 1681.3L831.6 1681.3L833.6 1681.3L835.6 1681.3L837.6 1681.4L839.6 1681.4L841.6 1681.4L843.6 1681.4L845.6 1681.4L847.6 1681.4L849.6 1681.4L851.6 1681.4L853.6 1681.4L855.6 1681.4L857.6 1681.4L859.6 1681.4L861.6 1681.4L863.6 1681.4L865.6 1681.4L867.6 1681.4 M928.8 1681.3L930.8 1681.3L932.8 1681.3L934.8 1681.2L936.8 1681.2L938.8 1681.2L940.8 1681.2L942.8 1681.2L944.8 1681.2L946.8 1681.2L948.8 1681.2L950.8 1681.2L952.8 1681.2L954.8 1681.2L956.8 1681.2L958.8 1681.2L960.8 1681.2L962.8 1681.1L964.8 1681.1L966.8 1681.1L968.8 1681.1 M1030.0 1681.1L1032.0 1681.1L1034.0 1681.1L1036.0 1681.1L1038.0 1681.1L1040.0 1681.1L1042.0 1681.2L1044.0 1681.2L1046.0 1681.2L1048.0 1681.2L1050.0 1681.3L1052.0 1681.3L1054.0 1681.3L1056.0 1681.4L1058.0 1681.4L1060.0 1681.4L1062.0 1681.4L1064.0 1681.5L1066.0 1681.5L1068.0 1681.5L1070.0 1681.5 M1123.3 1674.8L1125.2 1674.1L1127.0 1673.5L1128.9 1672.7L1130.7 1671.9L1132.6 1671.1L1134.4 1670.3L1136.2 1669.4L1137.9 1668.4L1139.7 1667.5L1141.4 1666.4L1143.1 1665.4L1144.8 1664.3L1146.4 1663.1L1148.0 1661.9L1149.6 1660.7L1151.1 1659.4L1152.6 1658.1L1154.0 1656.7L1155.5 1655.3L1156.9 1653.9 M1187.7 1601.6L1188.5 1599.8L1189.2 1597.9L1189.9 1596.0L1190.6 1594.2L1191.3 1592.3L1191.9 1590.4L1192.6 1588.5L1193.3 1586.6L1193.9 1584.7L1194.5 1582.8L1195.2 1580.9L1195.8 1579.0L1196.4 1577.1L1197.0 1575.2L1197.6 1573.3L1198.2 1571.4L1198.8 1569.5L1199.4 1567.6L1200.0 1565.7L1200.5 1563.8 M1216.4 1501.8L1216.9 1499.8L1217.3 1497.9L1217.7 1495.9L1218.1 1494.0L1218.6 1492.0L1219.0 1490.1L1219.4 1488.1L1219.8 1486.2L1220.2 1484.2L1220.6 1482.2L1221.0 1480.3L1221.4 1478.3L1221.8 1476.4L1222.2 1474.4L1222.5 1472.4L1222.9 1470.5L1223.3 1468.5L1223.7 1466.5L1224.1 1464.6L1224.4 1462.6 M1234.8 1402.5L1235.1 1400.5L1235.5 1398.6L1235.8 1396.6L1236.1 1394.6L1236.4 1392.6L1236.7 1390.7L1237.0 1388.7L1237.3 1386.7L1237.6 1384.7L1238.0 1382.8L1238.3 1380.8L1238.6 1378.8L1238.9 1376.8L1239.2 1374.9L1239.5 1372.9L1239.8 1370.9L1240.1 1368.9L1240.4 1366.9L1240.7 1365.0L1241.0 1363.0 M1249.8 1303.6L1250.1 1301.7L1250.4 1299.7L1250.6 1297.7L1250.9 1295.7L1251.2 1293.7L1251.5 1291.8L1251.8 1289.8L1252.1 1287.8L1252.3 1285.8L1252.6 1283.9L1252.9 1281.9L1253.2 1279.9L1253.5 1277.9L1253.8 1275.9L1254.0 1274.0L1254.3 1272.0L1254.6 1270.0L1254.9 1268.0L1255.2 1266.0L1255.5 1264.1 M1264.2 1202.7L1264.5 1200.7L1264.8 1198.7L1265.1 1196.7L1265.4 1194.8L1265.7 1192.8L1266.0 1190.8L1266.3 1188.8L1266.6 1186.9L1266.9 1184.9L1267.2 1182.9L1267.4 1180.9L1267.7 1178.9L1268.0 1177.0L1268.3 1175.0L1268.6 1173.0L1268.9 1171.0L1269.2 1169.1L1269.5 1167.1L1269.8 1165.1L1270.2 1163.1 M1279.8 1103.9L1280.2 1102.0L1280.5 1100.0L1280.8 1098.0L1281.2 1096.0L1281.5 1094.1L1281.9 1092.1L1282.3 1090.1L1282.6 1088.2L1283.0 1086.2L1283.3 1084.2L1283.7 1082.3L1284.0 1080.3L1284.4 1078.3L1284.8 1076.4L1285.2 1074.4L1285.7 1072.5L1286.1 1070.5L1286.7 1068.6L1287.2 1066.7L1287.8 1064.8 M1316.6 1064.0L1317.2 1065.9L1317.9 1067.8L1318.6 1069.7L1319.2 1071.6L1319.8 1073.5L1320.4 1075.4L1321.0 1077.3L1321.6 1079.2L1322.1 1081.2L1322.6 1083.1L1323.2 1085.0L1323.7 1087.0L1324.1 1088.9L1324.6 1090.8L1325.1 1092.8L1325.5 1094.7L1326.0 1096.7L1326.4 1098.6L1326.8 1100.6L1327.2 1102.6 M1337.9 1163.6L1338.3 1165.6L1338.6 1167.6L1338.9 1169.5L1339.3 1171.5L1339.6 1173.5L1339.9 1175.5L1340.2 1177.4L1340.6 1179.4L1340.9 1181.4L1341.2 1183.3L1341.5 1185.3L1341.9 1187.3L1342.2 1189.3L1342.5 1191.2L1342.8 1193.2L1343.1 1195.2L1343.5 1197.2L1343.8 1199.1L1344.1 1201.1L1344.4 1203.1 M1354.1 1263.3L1354.4 1265.3L1354.7 1267.2L1355.1 1269.2L1355.4 1271.2L1355.7 1273.2L1356.0 1275.1L1356.3 1277.1L1356.6 1279.1L1357.0 1281.1L1357.3 1283.0L1357.6 1285.0L1357.9 1287.0L1358.2 1289.0L1358.5 1290.9L1358.9 1292.9L1359.2 1294.9L1359.5 1296.9L1359.8 1298.8L1360.1 1300.8L1360.5 1302.8 M1370.7 1364.9L1371.0 1366.9L1371.4 1368.9L1371.7 1370.9L1372.0 1372.8L1372.4 1374.8L1372.7 1376.8L1373.1 1378.7L1373.4 1380.7L1373.7 1382.7L1374.1 1384.7L1374.4 1386.6L1374.8 1388.6L1375.1 1390.6L1375.4 1392.5L1375.8 1394.5L1376.1 1396.5L1376.5 1398.5L1376.8 1400.4L1377.2 1402.4L1377.5 1404.4 M1388.2 1462.4L1388.6 1464.3L1389.0 1466.3L1389.3 1468.3L1389.7 1470.2L1390.1 1472.2L1390.5 1474.1L1390.9 1476.1L1391.3 1478.1L1391.7 1480.0L1392.1 1482.0L1392.5 1483.9L1392.9 1485.9L1393.3 1487.9L1393.8 1489.8L1394.2 1491.8L1394.6 1493.7L1395.0 1495.7L1395.5 1497.6L1395.9 1499.6L1396.4 1501.5 M1412.6 1560.3L1413.3 1562.2L1413.9 1564.1L1414.6 1566.0L1415.2 1567.8L1415.9 1569.7L1416.6 1571.6L1417.3 1573.5L1418.0 1575.3L1418.7 1577.2L1419.5 1579.1L1420.2 1580.9L1420.9 1582.8L1421.7 1584.6L1422.5 1586.5L1423.2 1588.3L1424.0 1590.2L1424.8 1592.0L1425.6 1593.8L1426.4 1595.7L1427.3 1597.5 M1456.5 1646.2L1457.8 1647.7L1459.2 1649.2L1460.6 1650.6L1462.0 1652.0L1463.4 1653.4L1464.8 1654.8L1466.3 1656.2L1467.8 1657.5L1469.4 1658.8L1470.9 1660.0L1472.5 1661.2L1474.1 1662.4L1475.8 1663.5L1477.4 1664.7L1479.1 1665.7L1480.8 1666.7L1482.6 1667.7L1484.3 1668.7L1486.1 1669.6L1487.9 1670.5 M1553.5 1680.4L1555.5 1680.4L1557.5 1680.4L1559.5 1680.5L1561.5 1680.5L1563.5 1680.5L1565.5 1680.5L1567.5 1680.5L1569.5 1680.5L1571.5 1680.6L1573.5 1680.6L1575.5 1680.6L1577.5 1680.6L1579.5 1680.6L1581.5 1680.6L1583.5 1680.7L1585.5 1680.7L1587.5 1680.7L1589.5 1680.7L1591.5 1680.7L1593.5 1680.7 M1655.5 1681.1L1657.6 1681.1L1659.7 1681.1L1661.8 1681.1L1663.9 1681.1L1666.0 1681.1L1668.1 1681.1L1670.2 1681.1L1672.3 1681.2L1674.4 1681.2L1676.5 1681.2L1678.6 1681.2L1680.7 1681.2L1682.8 1681.2L1685.0 1681.2L1687.1 1681.2L1689.2 1681.2L1691.3 1681.2L1693.4 1681.2L1695.5 1681.2 M1755.5 1681.4L1757.5 1681.4L1759.5 1681.4L1761.5 1681.4L1763.5 1681.4L1765.5 1681.4L1767.5 1681.4L1769.5 1681.4L1771.5 1681.4L1773.5 1681.4L1775.5 1681.4L1777.5 1681.4L1779.5 1681.4L1781.5 1681.4L1783.5 1681.4L1785.5 1681.4L1787.5 1681.4L1789.5 1681.4L1791.5 1681.4L1793.5 1681.4L1795.5 1681.4 M1857.5 1681.4L1859.5 1681.4L1861.5 1681.4L1863.5 1681.4L1865.5 1681.4L1867.5 1681.4L1869.5 1681.4L1871.5 1681.4L1873.5 1681.4L1875.5 1681.4L1877.5 1681.4L1879.5 1681.4L1881.5 1681.4L1883.5 1681.4L1885.5 1681.4L1887.5 1681.4L1889.5 1681.4L1891.5 1681.4L1893.5 1681.4L1895.5 1681.4L1897.5 1681.4 M1957.5 1681.3L1959.5 1681.3L1961.5 1681.3L1963.5 1681.3L1965.5 1681.3L1967.5 1681.3L1969.5 1681.3L1971.5 1681.3L1973.5 1681.3L1975.5 1681.3L1977.5 1681.3L1979.5 1681.3L1981.5 1681.3L1983.5 1681.3L1985.5 1681.3L1987.5 1681.3L1989.5 1681.3L1991.5 1681.3L1993.5 1681.3L1995.5 1681.3L1997.5 1681.3 M2059.4 1681.2L2061.4 1681.2L2063.4 1681.2L2065.4 1681.2L2067.4 1681.2L2069.4 1681.2L2071.4 1681.2L2073.4 1681.2L2075.4 1681.2L2077.4 1681.2L2079.4 1681.2L2081.4 1681.2L2083.4 1681.2L2085.4 1681.2L2087.4 1681.2L2089.4 1681.2L2091.4 1681.2L2093.4 1681.2L2095.4 1681.2L2097.4 1681.2L2099.4 1681.2 M2161.4 1681.3L2163.4 1681.3L2165.4 1681.3L2167.4 1681.3L2169.4 1681.3L2171.4 1681.3L2173.4 1681.3L2175.4 1681.3L2177.4 1681.3L2179.4 1681.3L2181.4 1681.3L2183.4 1681.3L2185.4 1681.4L2187.4 1681.4L2189.4 1681.4L2191.4 1681.4L2193.4 1681.4L2195.4 1681.4L2197.4 1681.4L2199.4 1681.4L2201.4 1681.4 M2195.4 1681.4L2197.4 1681.4L2199.4 1681.4L2201.4 1681.4L2203.4 1681.4L2205.4 1681.4L2207.4 1681.4L2209.4 1681.4L2211.4 1681.4L2213.4 1681.4L2215.4 1681.5" stroke="#ff6a6a" stroke-linecap="round"/>
</g>
<g font-family="Liberation Serif, Times New Roman, serif" font-weight="bold" fill="#000">
<line x1="398" y1="135.8" x2="528" y2="135.8" stroke="#0468b1" stroke-width="10" stroke-linecap="round"/>
<text font-size="59.5" x="544.6" y="154.7">g</text>
<text font-size="40" x="573.4" y="168.9">0</text>
<text font-size="59.5" x="591.2" y="154.7" xml:space="preserve">= 1.5  m</text>
<text font-size="40" x="793.9" y="130.0">−1</text>
<text font-size="59.2" x="839.8" y="154.7" xml:space="preserve"> before filter</text>
<line x1="398" y1="229.9" x2="528" y2="229.9" stroke="#0468b1" stroke-width="10" stroke-linecap="round" stroke-dasharray="40 61.5"/>
<text font-size="59.5" x="544.6" y="248.8">g</text>
<text font-size="40" x="573.4" y="263.0">0</text>
<text font-size="59.5" x="591.2" y="248.8" xml:space="preserve">= 1.5  m</text>
<text font-size="40" x="793.9" y="224.1">−1</text>
<text font-size="59.2" x="839.8" y="248.8" xml:space="preserve"> after filter</text>
<line x1="398" y1="323.9" x2="528" y2="323.9" stroke="#69a510" stroke-width="10" stroke-linecap="round"/>
<text font-size="59.5" x="544.6" y="342.9">g</text>
<text font-size="40" x="573.4" y="357.1">0</text>
<text font-size="59.5" x="591.2" y="342.9" xml:space="preserve">= 1.0  m</text>
<text font-size="40" x="793.9" y="318.2">−1</text>
<text font-size="59.2" x="839.8" y="342.9" xml:space="preserve"> before filter</text>
<line x1="398" y1="417.9" x2="528" y2="417.9" stroke="#69a510" stroke-width="10" stroke-linecap="round" stroke-dasharray="40 61.5"/>
<text font-size="59.5" x="544.6" y="437.0">g</text>
<text font-size="40" x="573.4" y="451.2">0</text>
<text font-size="59.5" x="591.2" y="437.0" xml:space="preserve">= 1.0  m</text>
<text font-size="40" x="793.9" y="412.3">−1</text>
<text font-size="59.2" x="839.8" y="437.0" xml:space="preserve"> after filter</text>
<line x1="398" y1="512.0" x2="528" y2="512.0" stroke="#ff6a6a" stroke-width="10" stroke-linecap="round"/>
<text font-size="59.5" x="544.6" y="531.1">g</text>
<text font-size="40" x="573.4" y="545.3">0</text>
<text font-size="59.5" x="591.2" y="531.1" xml:space="preserve">=0.85 m</text>
<text font-size="40" x="793.9" y="506.4">−1</text>
<text font-size="59.2" x="839.8" y="531.1" xml:space="preserve"> before filter</text>
<line x1="398" y1="606.0" x2="528" y2="606.0" stroke="#ff6a6a" stroke-width="10" stroke-linecap="round" stroke-dasharray="40 61.5"/>
<text font-size="59.5" x="544.6" y="625.2">g</text>
<text font-size="40" x="573.4" y="639.4">0</text>
<text font-size="59.5" x="591.2" y="625.2" xml:space="preserve">=0.85 m</text>
<text font-size="40" x="793.9" y="600.5">−1</text>
<text font-size="59.2" x="839.8" y="625.2" xml:space="preserve"> after filter</text>
</g>
</svg></body></html>
